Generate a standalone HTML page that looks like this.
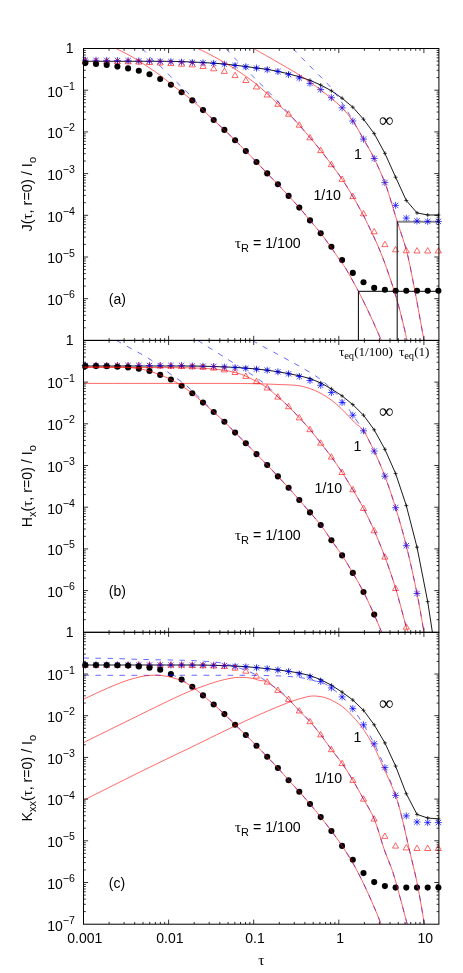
<!DOCTYPE html>
<html><head><meta charset="utf-8"><title>figure</title>
<style>
html,body{margin:0;padding:0;background:#fff;}
svg{display:block;will-change:transform;}
text{font-family:"Liberation Sans",sans-serif;fill:#000;}
.ser{font-family:"Liberation Serif",serif;}
</style></head><body>
<svg width="463" height="973" viewBox="0 0 463 973">
<defs>
<clipPath id="cpa"><rect x="83.5" y="48.5" width="355.4" height="291.9"/></clipPath>
<clipPath id="cpb"><rect x="83.5" y="340.4" width="355.4" height="291.9"/></clipPath>
<clipPath id="cpc"><rect x="83.5" y="632.3" width="355.4" height="291.9"/></clipPath>
</defs>
<rect width="463" height="973" fill="#fff"/>
<path d="M397.2 221.8 H438.9" stroke="#8a8a8a" stroke-width="2.1"/>
<path d="M85.3 61.3 L96.0 61.3 L106.7 61.3 L117.4 61.3 L128.1 61.3 L138.8 61.3 L149.5 61.3 L160.2 61.3 L170.9 61.3 L181.6 61.6 L192.3 62.0 L203.0 62.5 L213.7 63.2 L224.4 64.0 L235.1 65.2 L245.8 66.5 L256.5 68.0 L267.2 69.3 L277.9 71.4 L288.6 73.8 L299.3 76.8 L310.0 80.3 L320.7 85.0 L331.4 90.8 L342.1 98.2 L352.8 107.2 L363.5 119.2 L374.2 133.6 L384.9 153.3 L395.6 177.2 L406.3 200.5 L417.0 212.9 L427.7 215.0 L438.4 215.0" stroke="#000" stroke-width="0.9" fill="none"/>
<path d="M83.3 61.3 h4 M85.3 59.3 v4" stroke="#000" stroke-width="0.7"/>
<path d="M94.0 61.3 h4 M96.0 59.3 v4" stroke="#000" stroke-width="0.7"/>
<path d="M104.7 61.3 h4 M106.7 59.3 v4" stroke="#000" stroke-width="0.7"/>
<path d="M115.4 61.3 h4 M117.4 59.3 v4" stroke="#000" stroke-width="0.7"/>
<path d="M126.1 61.3 h4 M128.1 59.3 v4" stroke="#000" stroke-width="0.7"/>
<path d="M136.8 61.3 h4 M138.8 59.3 v4" stroke="#000" stroke-width="0.7"/>
<path d="M147.5 61.3 h4 M149.5 59.3 v4" stroke="#000" stroke-width="0.7"/>
<path d="M158.2 61.3 h4 M160.2 59.3 v4" stroke="#000" stroke-width="0.7"/>
<path d="M168.9 61.3 h4 M170.9 59.3 v4" stroke="#000" stroke-width="0.7"/>
<path d="M179.6 61.6 h4 M181.6 59.6 v4" stroke="#000" stroke-width="0.7"/>
<path d="M190.3 62.0 h4 M192.3 60.0 v4" stroke="#000" stroke-width="0.7"/>
<path d="M201.0 62.5 h4 M203.0 60.5 v4" stroke="#000" stroke-width="0.7"/>
<path d="M211.7 63.2 h4 M213.7 61.2 v4" stroke="#000" stroke-width="0.7"/>
<path d="M222.4 64.0 h4 M224.4 62.0 v4" stroke="#000" stroke-width="0.7"/>
<path d="M233.1 65.2 h4 M235.1 63.2 v4" stroke="#000" stroke-width="0.7"/>
<path d="M243.8 66.5 h4 M245.8 64.5 v4" stroke="#000" stroke-width="0.7"/>
<path d="M254.5 68.0 h4 M256.5 66.0 v4" stroke="#000" stroke-width="0.7"/>
<path d="M265.2 69.3 h4 M267.2 67.3 v4" stroke="#000" stroke-width="0.7"/>
<path d="M275.9 71.4 h4 M277.9 69.4 v4" stroke="#000" stroke-width="0.7"/>
<path d="M286.6 73.8 h4 M288.6 71.8 v4" stroke="#000" stroke-width="0.7"/>
<path d="M297.3 76.8 h4 M299.3 74.8 v4" stroke="#000" stroke-width="0.7"/>
<path d="M308.0 80.3 h4 M310.0 78.3 v4" stroke="#000" stroke-width="0.7"/>
<path d="M318.7 85.0 h4 M320.7 83.0 v4" stroke="#000" stroke-width="0.7"/>
<path d="M329.4 90.8 h4 M331.4 88.8 v4" stroke="#000" stroke-width="0.7"/>
<path d="M340.1 98.2 h4 M342.1 96.2 v4" stroke="#000" stroke-width="0.7"/>
<path d="M350.8 107.2 h4 M352.8 105.2 v4" stroke="#000" stroke-width="0.7"/>
<path d="M361.5 119.2 h4 M363.5 117.2 v4" stroke="#000" stroke-width="0.7"/>
<path d="M372.2 133.6 h4 M374.2 131.6 v4" stroke="#000" stroke-width="0.7"/>
<path d="M382.9 153.3 h4 M384.9 151.3 v4" stroke="#000" stroke-width="0.7"/>
<path d="M393.6 177.2 h4 M395.6 175.2 v4" stroke="#000" stroke-width="0.7"/>
<path d="M404.3 200.5 h4 M406.3 198.5 v4" stroke="#000" stroke-width="0.7"/>
<path d="M415.0 212.9 h4 M417.0 210.9 v4" stroke="#000" stroke-width="0.7"/>
<path d="M425.7 215.0 h4 M427.7 213.0 v4" stroke="#000" stroke-width="0.7"/>
<path d="M436.4 215.0 h4 M438.4 213.0 v4" stroke="#000" stroke-width="0.7"/>
<path d="M81.8 60.2 h7.0 M85.3 56.7 v7.0 M82.6 57.5 l5.4 5.4 M82.6 62.9 l5.4 -5.4" stroke="#0000ff" stroke-width="0.7" fill="none"/>
<path d="M92.5 60.3 h7.0 M96.0 56.8 v7.0 M93.3 57.6 l5.4 5.4 M93.3 63.0 l5.4 -5.4" stroke="#0000ff" stroke-width="0.7" fill="none"/>
<path d="M103.2 60.4 h7.0 M106.7 56.9 v7.0 M104.0 57.7 l5.4 5.4 M104.0 63.1 l5.4 -5.4" stroke="#0000ff" stroke-width="0.7" fill="none"/>
<path d="M113.9 60.5 h7.0 M117.4 57.0 v7.0 M114.7 57.8 l5.4 5.4 M114.7 63.2 l5.4 -5.4" stroke="#0000ff" stroke-width="0.7" fill="none"/>
<path d="M124.6 60.7 h7.0 M128.1 57.2 v7.0 M125.4 58.0 l5.4 5.4 M125.4 63.4 l5.4 -5.4" stroke="#0000ff" stroke-width="0.7" fill="none"/>
<path d="M135.3 60.9 h7.0 M138.8 57.4 v7.0 M136.1 58.2 l5.4 5.4 M136.1 63.6 l5.4 -5.4" stroke="#0000ff" stroke-width="0.7" fill="none"/>
<path d="M146.0 61.1 h7.0 M149.5 57.6 v7.0 M146.8 58.4 l5.4 5.4 M146.8 63.8 l5.4 -5.4" stroke="#0000ff" stroke-width="0.7" fill="none"/>
<path d="M156.7 61.4 h7.0 M160.2 57.9 v7.0 M157.5 58.7 l5.4 5.4 M157.5 64.1 l5.4 -5.4" stroke="#0000ff" stroke-width="0.7" fill="none"/>
<path d="M167.4 61.7 h7.0 M170.9 58.2 v7.0 M168.2 59.0 l5.4 5.4 M168.2 64.4 l5.4 -5.4" stroke="#0000ff" stroke-width="0.7" fill="none"/>
<path d="M178.1 62.1 h7.0 M181.6 58.6 v7.0 M178.9 59.4 l5.4 5.4 M178.9 64.8 l5.4 -5.4" stroke="#0000ff" stroke-width="0.7" fill="none"/>
<path d="M188.8 62.5 h7.0 M192.3 59.0 v7.0 M189.6 59.8 l5.4 5.4 M189.6 65.2 l5.4 -5.4" stroke="#0000ff" stroke-width="0.7" fill="none"/>
<path d="M199.5 62.9 h7.0 M203.0 59.4 v7.0 M200.3 60.2 l5.4 5.4 M200.3 65.6 l5.4 -5.4" stroke="#0000ff" stroke-width="0.7" fill="none"/>
<path d="M210.2 63.4 h7.0 M213.7 59.9 v7.0 M211.0 60.7 l5.4 5.4 M211.0 66.1 l5.4 -5.4" stroke="#0000ff" stroke-width="0.7" fill="none"/>
<path d="M220.9 64.2 h7.0 M224.4 60.7 v7.0 M221.7 61.5 l5.4 5.4 M221.7 66.9 l5.4 -5.4" stroke="#0000ff" stroke-width="0.7" fill="none"/>
<path d="M231.6 65.5 h7.0 M235.1 62.0 v7.0 M232.4 62.8 l5.4 5.4 M232.4 68.2 l5.4 -5.4" stroke="#0000ff" stroke-width="0.7" fill="none"/>
<path d="M242.3 66.8 h7.0 M245.8 63.3 v7.0 M243.1 64.1 l5.4 5.4 M243.1 69.5 l5.4 -5.4" stroke="#0000ff" stroke-width="0.7" fill="none"/>
<path d="M253.0 68.1 h7.0 M256.5 64.6 v7.0 M253.8 65.4 l5.4 5.4 M253.8 70.8 l5.4 -5.4" stroke="#0000ff" stroke-width="0.7" fill="none"/>
<path d="M263.7 69.7 h7.0 M267.2 66.2 v7.0 M264.5 67.0 l5.4 5.4 M264.5 72.4 l5.4 -5.4" stroke="#0000ff" stroke-width="0.7" fill="none"/>
<path d="M274.4 71.5 h7.0 M277.9 68.0 v7.0 M275.2 68.8 l5.4 5.4 M275.2 74.2 l5.4 -5.4" stroke="#0000ff" stroke-width="0.7" fill="none"/>
<path d="M285.1 74.6 h7.0 M288.6 71.1 v7.0 M285.9 71.9 l5.4 5.4 M285.9 77.3 l5.4 -5.4" stroke="#0000ff" stroke-width="0.7" fill="none"/>
<path d="M295.8 78.0 h7.0 M299.3 74.5 v7.0 M296.6 75.3 l5.4 5.4 M296.6 80.7 l5.4 -5.4" stroke="#0000ff" stroke-width="0.7" fill="none"/>
<path d="M306.5 83.4 h7.0 M310.0 79.9 v7.0 M307.3 80.7 l5.4 5.4 M307.3 86.1 l5.4 -5.4" stroke="#0000ff" stroke-width="0.7" fill="none"/>
<path d="M317.2 89.6 h7.0 M320.7 86.1 v7.0 M318.0 86.9 l5.4 5.4 M318.0 92.3 l5.4 -5.4" stroke="#0000ff" stroke-width="0.7" fill="none"/>
<path d="M327.9 97.7 h7.0 M331.4 94.2 v7.0 M328.7 95.0 l5.4 5.4 M328.7 100.4 l5.4 -5.4" stroke="#0000ff" stroke-width="0.7" fill="none"/>
<path d="M338.6 107.8 h7.0 M342.1 104.3 v7.0 M339.4 105.1 l5.4 5.4 M339.4 110.5 l5.4 -5.4" stroke="#0000ff" stroke-width="0.7" fill="none"/>
<path d="M349.3 121.0 h7.0 M352.8 117.5 v7.0 M350.1 118.3 l5.4 5.4 M350.1 123.7 l5.4 -5.4" stroke="#0000ff" stroke-width="0.7" fill="none"/>
<path d="M360.0 139.1 h7.0 M363.5 135.6 v7.0 M360.8 136.4 l5.4 5.4 M360.8 141.8 l5.4 -5.4" stroke="#0000ff" stroke-width="0.7" fill="none"/>
<path d="M370.7 158.5 h7.0 M374.2 155.0 v7.0 M371.5 155.8 l5.4 5.4 M371.5 161.2 l5.4 -5.4" stroke="#0000ff" stroke-width="0.7" fill="none"/>
<path d="M381.4 182.6 h7.0 M384.9 179.1 v7.0 M382.2 179.9 l5.4 5.4 M382.2 185.3 l5.4 -5.4" stroke="#0000ff" stroke-width="0.7" fill="none"/>
<path d="M392.1 205.4 h7.0 M395.6 201.9 v7.0 M392.9 202.7 l5.4 5.4 M392.9 208.1 l5.4 -5.4" stroke="#0000ff" stroke-width="0.7" fill="none"/>
<path d="M402.8 218.1 h7.0 M406.3 214.6 v7.0 M403.6 215.4 l5.4 5.4 M403.6 220.8 l5.4 -5.4" stroke="#0000ff" stroke-width="0.7" fill="none"/>
<path d="M413.5 221.0 h7.0 M417.0 217.5 v7.0 M414.3 218.3 l5.4 5.4 M414.3 223.7 l5.4 -5.4" stroke="#0000ff" stroke-width="0.7" fill="none"/>
<path d="M424.2 221.4 h7.0 M427.7 217.9 v7.0 M425.0 218.7 l5.4 5.4 M425.0 224.1 l5.4 -5.4" stroke="#0000ff" stroke-width="0.7" fill="none"/>
<path d="M434.9 221.4 h7.0 M438.4 217.9 v7.0 M435.7 218.7 l5.4 5.4 M435.7 224.1 l5.4 -5.4" stroke="#0000ff" stroke-width="0.7" fill="none"/>
<path d="M85.3 57.8 L88.3 63.2 L82.2 63.2 Z" fill="none" stroke="#ff0000" stroke-width="0.6"/>
<path d="M96.0 57.9 L99.0 63.3 L93.0 63.3 Z" fill="none" stroke="#ff0000" stroke-width="0.6"/>
<path d="M106.7 58.0 L109.7 63.4 L103.6 63.4 Z" fill="none" stroke="#ff0000" stroke-width="0.6"/>
<path d="M117.4 58.2 L120.4 63.6 L114.3 63.6 Z" fill="none" stroke="#ff0000" stroke-width="0.6"/>
<path d="M128.1 58.4 L131.2 63.8 L125.0 63.8 Z" fill="none" stroke="#ff0000" stroke-width="0.6"/>
<path d="M138.8 58.7 L141.9 64.1 L135.8 64.1 Z" fill="none" stroke="#ff0000" stroke-width="0.6"/>
<path d="M149.5 59.1 L152.6 64.5 L146.4 64.5 Z" fill="none" stroke="#ff0000" stroke-width="0.6"/>
<path d="M160.2 59.6 L163.2 65.0 L157.1 65.0 Z" fill="none" stroke="#ff0000" stroke-width="0.6"/>
<path d="M170.9 60.2 L173.9 65.6 L167.8 65.6 Z" fill="none" stroke="#ff0000" stroke-width="0.6"/>
<path d="M181.6 60.8 L184.7 66.2 L178.5 66.2 Z" fill="none" stroke="#ff0000" stroke-width="0.6"/>
<path d="M192.3 61.5 L195.4 66.9 L189.2 66.9 Z" fill="none" stroke="#ff0000" stroke-width="0.6"/>
<path d="M203.0 63.1 L206.1 68.5 L199.9 68.5 Z" fill="none" stroke="#ff0000" stroke-width="0.6"/>
<path d="M213.7 65.4 L216.8 70.8 L210.6 70.8 Z" fill="none" stroke="#ff0000" stroke-width="0.6"/>
<path d="M224.4 68.0 L227.4 73.4 L221.3 73.4 Z" fill="none" stroke="#ff0000" stroke-width="0.6"/>
<path d="M235.1 72.2 L238.1 77.6 L232.0 77.6 Z" fill="none" stroke="#ff0000" stroke-width="0.6"/>
<path d="M245.8 77.1 L248.9 82.5 L242.8 82.5 Z" fill="none" stroke="#ff0000" stroke-width="0.6"/>
<path d="M256.5 83.6 L259.6 89.0 L253.4 89.0 Z" fill="none" stroke="#ff0000" stroke-width="0.6"/>
<path d="M267.2 91.6 L270.2 97.0 L264.1 97.0 Z" fill="none" stroke="#ff0000" stroke-width="0.6"/>
<path d="M277.9 100.9 L280.9 106.3 L274.8 106.3 Z" fill="none" stroke="#ff0000" stroke-width="0.6"/>
<path d="M288.6 110.8 L291.6 116.2 L285.5 116.2 Z" fill="none" stroke="#ff0000" stroke-width="0.6"/>
<path d="M299.3 121.8 L302.4 127.2 L296.2 127.2 Z" fill="none" stroke="#ff0000" stroke-width="0.6"/>
<path d="M310.0 134.4 L313.1 139.8 L306.9 139.8 Z" fill="none" stroke="#ff0000" stroke-width="0.6"/>
<path d="M320.7 147.2 L323.8 152.6 L317.6 152.6 Z" fill="none" stroke="#ff0000" stroke-width="0.6"/>
<path d="M331.4 161.3 L334.4 166.7 L328.3 166.7 Z" fill="none" stroke="#ff0000" stroke-width="0.6"/>
<path d="M342.1 176.0 L345.1 181.4 L339.0 181.4 Z" fill="none" stroke="#ff0000" stroke-width="0.6"/>
<path d="M352.8 193.2 L355.9 198.6 L349.8 198.6 Z" fill="none" stroke="#ff0000" stroke-width="0.6"/>
<path d="M363.5 210.4 L366.6 215.8 L360.4 215.8 Z" fill="none" stroke="#ff0000" stroke-width="0.6"/>
<path d="M374.2 228.4 L377.2 233.8 L371.1 233.8 Z" fill="none" stroke="#ff0000" stroke-width="0.6"/>
<path d="M384.9 241.2 L387.9 246.6 L381.8 246.6 Z" fill="none" stroke="#ff0000" stroke-width="0.6"/>
<path d="M395.6 246.4 L398.6 251.8 L392.5 251.8 Z" fill="none" stroke="#ff0000" stroke-width="0.6"/>
<path d="M406.3 247.4 L409.4 252.8 L403.2 252.8 Z" fill="none" stroke="#ff0000" stroke-width="0.6"/>
<path d="M417.0 247.6 L420.1 253.0 L413.9 253.0 Z" fill="none" stroke="#ff0000" stroke-width="0.6"/>
<path d="M427.7 247.6 L430.8 253.0 L424.6 253.0 Z" fill="none" stroke="#ff0000" stroke-width="0.6"/>
<path d="M438.4 247.6 L441.4 253.0 L435.3 253.0 Z" fill="none" stroke="#ff0000" stroke-width="0.6"/>
<circle cx="85.3" cy="63.1" r="3.05" fill="#000"/>
<circle cx="96.0" cy="64.0" r="3.05" fill="#000"/>
<circle cx="106.7" cy="65.0" r="3.05" fill="#000"/>
<circle cx="117.4" cy="66.6" r="3.05" fill="#000"/>
<circle cx="128.1" cy="68.4" r="3.05" fill="#000"/>
<circle cx="138.8" cy="70.7" r="3.05" fill="#000"/>
<circle cx="149.5" cy="74.3" r="3.05" fill="#000"/>
<circle cx="160.2" cy="79.0" r="3.05" fill="#000"/>
<circle cx="170.9" cy="84.7" r="3.05" fill="#000"/>
<circle cx="181.6" cy="92.2" r="3.05" fill="#000"/>
<circle cx="192.3" cy="100.4" r="3.05" fill="#000"/>
<circle cx="203.0" cy="110.1" r="3.05" fill="#000"/>
<circle cx="213.7" cy="120.0" r="3.05" fill="#000"/>
<circle cx="224.4" cy="129.9" r="3.05" fill="#000"/>
<circle cx="235.1" cy="140.2" r="3.05" fill="#000"/>
<circle cx="245.8" cy="151.1" r="3.05" fill="#000"/>
<circle cx="256.5" cy="162.0" r="3.05" fill="#000"/>
<circle cx="267.2" cy="173.4" r="3.05" fill="#000"/>
<circle cx="277.9" cy="184.3" r="3.05" fill="#000"/>
<circle cx="288.6" cy="195.9" r="3.05" fill="#000"/>
<circle cx="299.3" cy="207.6" r="3.05" fill="#000"/>
<circle cx="310.0" cy="220.4" r="3.05" fill="#000"/>
<circle cx="320.7" cy="233.2" r="3.05" fill="#000"/>
<circle cx="331.4" cy="246.7" r="3.05" fill="#000"/>
<circle cx="342.1" cy="260.1" r="3.05" fill="#000"/>
<circle cx="352.8" cy="272.9" r="3.05" fill="#000"/>
<circle cx="363.5" cy="282.3" r="3.05" fill="#000"/>
<circle cx="374.2" cy="287.9" r="3.05" fill="#000"/>
<circle cx="384.9" cy="289.8" r="3.05" fill="#000"/>
<circle cx="395.6" cy="290.7" r="3.05" fill="#000"/>
<circle cx="406.3" cy="290.7" r="3.05" fill="#000"/>
<circle cx="417.0" cy="290.7" r="3.05" fill="#000"/>
<circle cx="427.7" cy="290.7" r="3.05" fill="#000"/>
<circle cx="438.4" cy="290.7" r="3.05" fill="#000"/>
<g clip-path="url(#cpa)">
<path d="M142.2 48.5 C144.1 50.5 150.3 57.4 153.6 60.6 C156.9 63.9 159.1 65.1 162.2 68.0 C165.3 70.9 169.1 75.0 172.4 78.2 C175.7 81.4 178.9 84.3 182.1 87.4 C185.3 90.5 188.3 93.2 191.8 97.0 C195.3 100.8 199.3 106.3 203.0 110.1 C206.7 113.9 210.1 116.7 213.7 120.0 C217.3 123.3 220.8 126.5 224.4 129.9 C228.0 133.3 231.5 136.7 235.1 140.2 C238.7 143.7 242.2 147.5 245.8 151.1 C249.4 154.7 252.9 158.3 256.5 162.0 C260.1 165.7 263.6 169.7 267.2 173.4 C270.8 177.1 274.3 180.6 277.9 184.3 C281.5 188.1 285.0 192.0 288.6 195.9 C292.2 199.8 295.7 203.5 299.3 207.6 C302.9 211.7 306.4 216.1 310.0 220.4 C313.6 224.7 317.1 228.6 320.7 233.2 C324.3 237.8 329.0 244.5 331.4 247.8 C333.8 251.1 333.2 250.6 335.0 253.2 C336.8 255.8 340.3 260.6 342.1 263.2 C343.9 265.8 344.2 265.9 345.8 268.6 C347.4 271.3 349.9 275.7 352.0 279.5 C354.1 283.3 355.8 286.3 358.4 291.3 C361.0 296.3 364.6 303.6 367.4 309.4 C370.2 315.2 372.7 320.8 375.0 326.0 C377.3 331.2 380.3 338.0 381.4 340.4" stroke="#0000ff" stroke-width="0.6" fill="none" stroke-dasharray="5.5 6.5"/>
<path d="M226.0 48.5 C227.8 50.5 233.8 57.2 237.1 60.6 C240.3 64.0 242.6 66.1 245.5 69.0 C248.4 71.9 251.5 75.0 254.4 77.9 C257.3 80.8 260.1 83.5 263.1 86.5 C266.1 89.5 269.1 92.3 272.4 95.8 C275.7 99.2 279.4 103.3 283.0 107.2 C286.6 111.1 289.5 114.1 294.0 119.2 C298.5 124.3 305.6 132.4 310.0 137.6 C314.4 142.8 317.1 145.9 320.7 150.4 C324.3 154.9 327.8 159.7 331.4 164.5 C335.0 169.3 338.5 173.9 342.1 179.2 C345.7 184.5 349.4 190.6 352.8 196.4 C356.2 202.2 360.2 209.3 362.7 214.0 C365.2 218.7 366.3 221.2 367.9 224.5 C369.5 227.8 370.8 230.4 372.5 234.0 C374.2 237.6 376.2 241.7 378.1 246.3 C380.1 250.9 382.2 256.2 384.2 261.5 C386.2 266.8 388.2 272.7 390.0 278.0 C391.8 283.3 393.4 288.3 395.0 293.5 C396.6 298.7 398.1 303.8 399.5 309.0 C400.9 314.2 402.2 319.8 403.5 325.0 C404.8 330.2 406.4 337.8 407.0 340.4" stroke="#0000ff" stroke-width="0.6" fill="none" stroke-dasharray="5.5 6.5"/>
<path d="M293.2 48.5 C293.6 49.0 293.9 49.6 295.8 51.6 C297.7 53.6 301.6 57.7 304.5 60.6 C307.4 63.5 310.1 66.3 313.1 69.3 C316.1 72.3 319.6 75.7 322.4 78.6 C325.2 81.5 327.4 83.5 330.0 86.5 C332.6 89.5 335.1 92.9 337.9 96.9 C340.7 100.9 343.8 105.3 347.0 110.5 C350.2 115.7 354.2 123.0 357.0 127.8 C359.8 132.6 360.6 134.0 363.5 139.1 C366.4 144.2 370.6 151.2 374.2 158.5 C377.8 165.8 382.3 176.0 384.9 182.6 C387.5 189.2 387.9 191.5 390.0 198.0 C392.1 204.5 394.4 212.5 397.2 221.5 C400.0 230.5 403.9 240.5 406.8 251.8 C409.7 263.1 411.7 274.6 414.6 289.4 C417.5 304.2 422.4 331.9 424.0 340.4" stroke="#0000ff" stroke-width="0.6" fill="none" stroke-dasharray="5.5 6.5"/>
<path d="M116.0 48.5 C118.0 49.5 124.2 52.5 128.0 54.6 C131.8 56.7 135.3 58.7 139.0 61.0 C142.7 63.3 146.4 65.8 150.0 68.2 C153.6 70.6 156.9 72.9 160.4 75.5 C163.9 78.1 167.5 81.2 171.0 84.0 C174.5 86.8 178.0 89.5 181.6 92.2 C185.2 94.9 188.7 97.4 192.3 100.4 C195.9 103.4 199.4 106.8 203.0 110.1 C206.6 113.4 210.1 116.7 213.7 120.0 C217.3 123.3 220.8 126.5 224.4 129.9 C228.0 133.3 231.5 136.7 235.1 140.2 C238.7 143.7 242.2 147.5 245.8 151.1 C249.4 154.7 252.9 158.3 256.5 162.0 C260.1 165.7 263.6 169.7 267.2 173.4 C270.8 177.1 274.3 180.6 277.9 184.3 C281.5 188.1 285.0 192.0 288.6 195.9 C292.2 199.8 295.7 203.5 299.3 207.6 C302.9 211.7 306.4 216.1 310.0 220.4 C313.6 224.7 317.1 228.6 320.7 233.2 C324.3 237.8 329.0 244.5 331.4 247.8 C333.8 251.1 333.2 250.6 335.0 253.2 C336.8 255.8 340.3 260.6 342.1 263.2 C343.9 265.8 344.2 265.9 345.8 268.6 C347.4 271.3 349.9 275.7 352.0 279.5 C354.1 283.3 355.8 286.3 358.4 291.3 C361.0 296.3 364.6 303.6 367.4 309.4 C370.2 315.2 372.7 320.8 375.0 326.0 C377.3 331.2 380.3 338.0 381.4 340.4" stroke="#ff0000" stroke-width="0.6" fill="none"/>
<path d="M197.8 48.5 C199.8 49.5 205.7 52.2 210.0 54.5 C214.3 56.8 218.7 59.1 223.7 62.1 C228.7 65.1 234.8 68.8 240.0 72.3 C245.2 75.8 250.3 79.4 254.8 82.9 C259.3 86.4 263.1 90.0 267.0 93.5 C270.9 97.0 274.3 100.7 277.9 104.1 C281.5 107.5 285.0 110.5 288.6 114.0 C292.2 117.5 295.7 121.1 299.3 125.0 C302.9 128.9 306.4 133.4 310.0 137.6 C313.6 141.8 317.1 145.9 320.7 150.4 C324.3 154.9 327.8 159.7 331.4 164.5 C335.0 169.3 338.5 173.9 342.1 179.2 C345.7 184.5 349.4 190.6 352.8 196.4 C356.2 202.2 360.2 209.3 362.7 214.0 C365.2 218.7 366.3 221.2 367.9 224.5 C369.5 227.8 370.8 230.4 372.5 234.0 C374.2 237.6 376.2 241.7 378.1 246.3 C380.1 250.9 382.2 256.2 384.2 261.5 C386.2 266.8 388.2 272.7 390.0 278.0 C391.8 283.3 393.4 288.3 395.0 293.5 C396.6 298.7 398.1 303.8 399.5 309.0 C400.9 314.2 402.2 319.8 403.5 325.0 C404.8 330.2 406.4 337.8 407.0 340.4" stroke="#ff0000" stroke-width="0.6" fill="none"/>
<path d="M253.5 48.5 C256.2 50.0 264.4 54.6 270.0 57.8 C275.6 61.0 281.5 64.4 287.3 67.8 C293.1 71.2 299.1 74.5 304.6 78.2 C310.1 81.9 316.0 86.5 320.5 89.9 C325.0 93.3 327.9 95.6 331.5 98.6 C335.1 101.6 338.5 104.1 342.1 107.8 C345.6 111.5 349.2 115.8 352.8 121.0 C356.4 126.2 359.9 132.8 363.5 139.1 C367.1 145.3 370.6 151.2 374.2 158.5 C377.8 165.8 382.3 176.0 384.9 182.6 C387.5 189.2 387.9 191.5 390.0 198.0 C392.1 204.5 394.4 212.5 397.2 221.5 C400.0 230.5 403.9 240.5 406.8 251.8 C409.7 263.1 411.7 274.6 414.6 289.4 C417.5 304.2 422.4 331.9 424.0 340.4" stroke="#ff0000" stroke-width="0.6" fill="none"/>
</g>
<path d="M358.4 340.4 V291.3 H438.9 M397.2 340.4 V221.5" stroke="#000" stroke-width="1" fill="none"/>
<path d="M85.3 366.0 L96.0 366.0 L106.7 366.0 L117.4 366.0 L128.1 366.0 L138.8 366.0 L149.5 366.0 L160.2 366.0 L170.9 366.0 L181.6 366.0 L192.3 366.0 L203.0 366.2 L213.7 366.5 L224.4 366.9 L235.1 367.4 L245.8 368.1 L256.5 369.0 L267.2 370.2 L277.9 371.8 L288.6 373.6 L299.3 375.8 L310.0 378.5 L320.7 382.9 L331.4 388.9 L342.1 395.9 L352.8 404.6 L363.5 415.2 L374.2 429.8 L384.9 449.3 L395.6 473.5 L406.3 505.6 L417.0 547.2 L427.7 601.6 L432.4 632.3" stroke="#000" stroke-width="0.9" fill="none"/>
<path d="M83.3 366.0 h4 M85.3 364.0 v4" stroke="#000" stroke-width="0.7"/>
<path d="M94.0 366.0 h4 M96.0 364.0 v4" stroke="#000" stroke-width="0.7"/>
<path d="M104.7 366.0 h4 M106.7 364.0 v4" stroke="#000" stroke-width="0.7"/>
<path d="M115.4 366.0 h4 M117.4 364.0 v4" stroke="#000" stroke-width="0.7"/>
<path d="M126.1 366.0 h4 M128.1 364.0 v4" stroke="#000" stroke-width="0.7"/>
<path d="M136.8 366.0 h4 M138.8 364.0 v4" stroke="#000" stroke-width="0.7"/>
<path d="M147.5 366.0 h4 M149.5 364.0 v4" stroke="#000" stroke-width="0.7"/>
<path d="M158.2 366.0 h4 M160.2 364.0 v4" stroke="#000" stroke-width="0.7"/>
<path d="M168.9 366.0 h4 M170.9 364.0 v4" stroke="#000" stroke-width="0.7"/>
<path d="M179.6 366.0 h4 M181.6 364.0 v4" stroke="#000" stroke-width="0.7"/>
<path d="M190.3 366.0 h4 M192.3 364.0 v4" stroke="#000" stroke-width="0.7"/>
<path d="M201.0 366.2 h4 M203.0 364.2 v4" stroke="#000" stroke-width="0.7"/>
<path d="M211.7 366.5 h4 M213.7 364.5 v4" stroke="#000" stroke-width="0.7"/>
<path d="M222.4 366.9 h4 M224.4 364.9 v4" stroke="#000" stroke-width="0.7"/>
<path d="M233.1 367.4 h4 M235.1 365.4 v4" stroke="#000" stroke-width="0.7"/>
<path d="M243.8 368.1 h4 M245.8 366.1 v4" stroke="#000" stroke-width="0.7"/>
<path d="M254.5 369.0 h4 M256.5 367.0 v4" stroke="#000" stroke-width="0.7"/>
<path d="M265.2 370.2 h4 M267.2 368.2 v4" stroke="#000" stroke-width="0.7"/>
<path d="M275.9 371.8 h4 M277.9 369.8 v4" stroke="#000" stroke-width="0.7"/>
<path d="M286.6 373.6 h4 M288.6 371.6 v4" stroke="#000" stroke-width="0.7"/>
<path d="M297.3 375.8 h4 M299.3 373.8 v4" stroke="#000" stroke-width="0.7"/>
<path d="M308.0 378.5 h4 M310.0 376.5 v4" stroke="#000" stroke-width="0.7"/>
<path d="M318.7 382.9 h4 M320.7 380.9 v4" stroke="#000" stroke-width="0.7"/>
<path d="M329.4 388.9 h4 M331.4 386.9 v4" stroke="#000" stroke-width="0.7"/>
<path d="M340.1 395.9 h4 M342.1 393.9 v4" stroke="#000" stroke-width="0.7"/>
<path d="M350.8 404.6 h4 M352.8 402.6 v4" stroke="#000" stroke-width="0.7"/>
<path d="M361.5 415.2 h4 M363.5 413.2 v4" stroke="#000" stroke-width="0.7"/>
<path d="M372.2 429.8 h4 M374.2 427.8 v4" stroke="#000" stroke-width="0.7"/>
<path d="M382.9 449.3 h4 M384.9 447.3 v4" stroke="#000" stroke-width="0.7"/>
<path d="M393.6 473.5 h4 M395.6 471.5 v4" stroke="#000" stroke-width="0.7"/>
<path d="M404.3 505.6 h4 M406.3 503.6 v4" stroke="#000" stroke-width="0.7"/>
<path d="M415.0 547.2 h4 M417.0 545.2 v4" stroke="#000" stroke-width="0.7"/>
<path d="M425.7 601.6 h4 M427.7 599.6 v4" stroke="#000" stroke-width="0.7"/>
<path d="M81.8 365.5 h7.0 M85.3 362.0 v7.0 M82.6 362.8 l5.4 5.4 M82.6 368.2 l5.4 -5.4" stroke="#0000ff" stroke-width="0.7" fill="none"/>
<path d="M92.5 365.5 h7.0 M96.0 362.0 v7.0 M93.3 362.8 l5.4 5.4 M93.3 368.2 l5.4 -5.4" stroke="#0000ff" stroke-width="0.7" fill="none"/>
<path d="M103.2 365.5 h7.0 M106.7 362.0 v7.0 M104.0 362.8 l5.4 5.4 M104.0 368.2 l5.4 -5.4" stroke="#0000ff" stroke-width="0.7" fill="none"/>
<path d="M113.9 365.5 h7.0 M117.4 362.0 v7.0 M114.7 362.8 l5.4 5.4 M114.7 368.2 l5.4 -5.4" stroke="#0000ff" stroke-width="0.7" fill="none"/>
<path d="M124.6 365.5 h7.0 M128.1 362.0 v7.0 M125.4 362.8 l5.4 5.4 M125.4 368.2 l5.4 -5.4" stroke="#0000ff" stroke-width="0.7" fill="none"/>
<path d="M135.3 365.5 h7.0 M138.8 362.0 v7.0 M136.1 362.8 l5.4 5.4 M136.1 368.2 l5.4 -5.4" stroke="#0000ff" stroke-width="0.7" fill="none"/>
<path d="M146.0 365.5 h7.0 M149.5 362.0 v7.0 M146.8 362.8 l5.4 5.4 M146.8 368.2 l5.4 -5.4" stroke="#0000ff" stroke-width="0.7" fill="none"/>
<path d="M156.7 365.5 h7.0 M160.2 362.0 v7.0 M157.5 362.8 l5.4 5.4 M157.5 368.2 l5.4 -5.4" stroke="#0000ff" stroke-width="0.7" fill="none"/>
<path d="M167.4 365.5 h7.0 M170.9 362.0 v7.0 M168.2 362.8 l5.4 5.4 M168.2 368.2 l5.4 -5.4" stroke="#0000ff" stroke-width="0.7" fill="none"/>
<path d="M178.1 365.5 h7.0 M181.6 362.0 v7.0 M178.9 362.8 l5.4 5.4 M178.9 368.2 l5.4 -5.4" stroke="#0000ff" stroke-width="0.7" fill="none"/>
<path d="M188.8 366.0 h7.0 M192.3 362.5 v7.0 M189.6 363.3 l5.4 5.4 M189.6 368.7 l5.4 -5.4" stroke="#0000ff" stroke-width="0.7" fill="none"/>
<path d="M199.5 366.2 h7.0 M203.0 362.7 v7.0 M200.3 363.5 l5.4 5.4 M200.3 368.9 l5.4 -5.4" stroke="#0000ff" stroke-width="0.7" fill="none"/>
<path d="M210.2 366.5 h7.0 M213.7 363.0 v7.0 M211.0 363.8 l5.4 5.4 M211.0 369.2 l5.4 -5.4" stroke="#0000ff" stroke-width="0.7" fill="none"/>
<path d="M220.9 367.0 h7.0 M224.4 363.5 v7.0 M221.7 364.3 l5.4 5.4 M221.7 369.7 l5.4 -5.4" stroke="#0000ff" stroke-width="0.7" fill="none"/>
<path d="M231.6 367.7 h7.0 M235.1 364.2 v7.0 M232.4 365.0 l5.4 5.4 M232.4 370.4 l5.4 -5.4" stroke="#0000ff" stroke-width="0.7" fill="none"/>
<path d="M242.3 368.4 h7.0 M245.8 364.9 v7.0 M243.1 365.7 l5.4 5.4 M243.1 371.1 l5.4 -5.4" stroke="#0000ff" stroke-width="0.7" fill="none"/>
<path d="M253.0 369.2 h7.0 M256.5 365.7 v7.0 M253.8 366.5 l5.4 5.4 M253.8 371.9 l5.4 -5.4" stroke="#0000ff" stroke-width="0.7" fill="none"/>
<path d="M263.7 370.2 h7.0 M267.2 366.7 v7.0 M264.5 367.5 l5.4 5.4 M264.5 372.9 l5.4 -5.4" stroke="#0000ff" stroke-width="0.7" fill="none"/>
<path d="M274.4 371.8 h7.0 M277.9 368.3 v7.0 M275.2 369.1 l5.4 5.4 M275.2 374.5 l5.4 -5.4" stroke="#0000ff" stroke-width="0.7" fill="none"/>
<path d="M285.1 373.8 h7.0 M288.6 370.3 v7.0 M285.9 371.1 l5.4 5.4 M285.9 376.5 l5.4 -5.4" stroke="#0000ff" stroke-width="0.7" fill="none"/>
<path d="M295.8 376.5 h7.0 M299.3 373.0 v7.0 M296.6 373.8 l5.4 5.4 M296.6 379.2 l5.4 -5.4" stroke="#0000ff" stroke-width="0.7" fill="none"/>
<path d="M306.5 380.5 h7.0 M310.0 377.0 v7.0 M307.3 377.8 l5.4 5.4 M307.3 383.2 l5.4 -5.4" stroke="#0000ff" stroke-width="0.7" fill="none"/>
<path d="M317.2 385.3 h7.0 M320.7 381.8 v7.0 M318.0 382.6 l5.4 5.4 M318.0 388.0 l5.4 -5.4" stroke="#0000ff" stroke-width="0.7" fill="none"/>
<path d="M327.9 392.5 h7.0 M331.4 389.0 v7.0 M328.7 389.8 l5.4 5.4 M328.7 395.2 l5.4 -5.4" stroke="#0000ff" stroke-width="0.7" fill="none"/>
<path d="M338.6 402.5 h7.0 M342.1 399.0 v7.0 M339.4 399.8 l5.4 5.4 M339.4 405.2 l5.4 -5.4" stroke="#0000ff" stroke-width="0.7" fill="none"/>
<path d="M349.3 415.2 h7.0 M352.8 411.7 v7.0 M350.1 412.5 l5.4 5.4 M350.1 417.9 l5.4 -5.4" stroke="#0000ff" stroke-width="0.7" fill="none"/>
<path d="M360.0 430.8 h7.0 M363.5 427.3 v7.0 M360.8 428.1 l5.4 5.4 M360.8 433.5 l5.4 -5.4" stroke="#0000ff" stroke-width="0.7" fill="none"/>
<path d="M370.7 451.1 h7.0 M374.2 447.6 v7.0 M371.5 448.4 l5.4 5.4 M371.5 453.8 l5.4 -5.4" stroke="#0000ff" stroke-width="0.7" fill="none"/>
<path d="M381.4 476.2 h7.0 M384.9 472.7 v7.0 M382.2 473.5 l5.4 5.4 M382.2 478.9 l5.4 -5.4" stroke="#0000ff" stroke-width="0.7" fill="none"/>
<path d="M392.1 507.7 h7.0 M395.6 504.2 v7.0 M392.9 505.0 l5.4 5.4 M392.9 510.4 l5.4 -5.4" stroke="#0000ff" stroke-width="0.7" fill="none"/>
<path d="M402.8 545.7 h7.0 M406.3 542.2 v7.0 M403.6 543.0 l5.4 5.4 M403.6 548.4 l5.4 -5.4" stroke="#0000ff" stroke-width="0.7" fill="none"/>
<path d="M413.5 593.5 h7.0 M417.0 590.0 v7.0 M414.3 590.8 l5.4 5.4 M414.3 596.2 l5.4 -5.4" stroke="#0000ff" stroke-width="0.7" fill="none"/>
<path d="M85.3 362.4 L88.3 367.8 L82.2 367.8 Z" fill="none" stroke="#ff0000" stroke-width="0.6"/>
<path d="M96.0 362.4 L99.0 367.8 L93.0 367.8 Z" fill="none" stroke="#ff0000" stroke-width="0.6"/>
<path d="M106.7 362.4 L109.7 367.8 L103.6 367.8 Z" fill="none" stroke="#ff0000" stroke-width="0.6"/>
<path d="M117.4 362.4 L120.4 367.8 L114.3 367.8 Z" fill="none" stroke="#ff0000" stroke-width="0.6"/>
<path d="M128.1 362.5 L131.2 367.9 L125.0 367.9 Z" fill="none" stroke="#ff0000" stroke-width="0.6"/>
<path d="M138.8 362.5 L141.9 367.9 L135.8 367.9 Z" fill="none" stroke="#ff0000" stroke-width="0.6"/>
<path d="M149.5 362.6 L152.6 368.0 L146.4 368.0 Z" fill="none" stroke="#ff0000" stroke-width="0.6"/>
<path d="M160.2 362.7 L163.2 368.1 L157.1 368.1 Z" fill="none" stroke="#ff0000" stroke-width="0.6"/>
<path d="M170.9 362.9 L173.9 368.3 L167.8 368.3 Z" fill="none" stroke="#ff0000" stroke-width="0.6"/>
<path d="M181.6 363.1 L184.7 368.5 L178.5 368.5 Z" fill="none" stroke="#ff0000" stroke-width="0.6"/>
<path d="M192.3 363.4 L195.4 368.8 L189.2 368.8 Z" fill="none" stroke="#ff0000" stroke-width="0.6"/>
<path d="M203.0 363.9 L206.1 369.3 L199.9 369.3 Z" fill="none" stroke="#ff0000" stroke-width="0.6"/>
<path d="M213.7 364.7 L216.8 370.1 L210.6 370.1 Z" fill="none" stroke="#ff0000" stroke-width="0.6"/>
<path d="M224.4 366.5 L227.4 371.9 L221.3 371.9 Z" fill="none" stroke="#ff0000" stroke-width="0.6"/>
<path d="M235.1 369.1 L238.1 374.5 L232.0 374.5 Z" fill="none" stroke="#ff0000" stroke-width="0.6"/>
<path d="M245.8 373.0 L248.9 378.4 L242.8 378.4 Z" fill="none" stroke="#ff0000" stroke-width="0.6"/>
<path d="M256.5 378.2 L259.6 383.6 L253.4 383.6 Z" fill="none" stroke="#ff0000" stroke-width="0.6"/>
<path d="M267.2 384.6 L270.2 390.0 L264.1 390.0 Z" fill="none" stroke="#ff0000" stroke-width="0.6"/>
<path d="M277.9 393.7 L280.9 399.1 L274.8 399.1 Z" fill="none" stroke="#ff0000" stroke-width="0.6"/>
<path d="M288.6 403.3 L291.6 408.7 L285.5 408.7 Z" fill="none" stroke="#ff0000" stroke-width="0.6"/>
<path d="M299.3 414.5 L302.4 419.9 L296.2 419.9 Z" fill="none" stroke="#ff0000" stroke-width="0.6"/>
<path d="M310.0 426.3 L313.1 431.7 L306.9 431.7 Z" fill="none" stroke="#ff0000" stroke-width="0.6"/>
<path d="M320.7 439.8 L323.8 445.2 L317.6 445.2 Z" fill="none" stroke="#ff0000" stroke-width="0.6"/>
<path d="M331.4 453.7 L334.4 459.1 L328.3 459.1 Z" fill="none" stroke="#ff0000" stroke-width="0.6"/>
<path d="M342.1 469.1 L345.1 474.5 L339.0 474.5 Z" fill="none" stroke="#ff0000" stroke-width="0.6"/>
<path d="M352.8 486.4 L355.9 491.8 L349.8 491.8 Z" fill="none" stroke="#ff0000" stroke-width="0.6"/>
<path d="M363.5 505.1 L366.6 510.5 L360.4 510.5 Z" fill="none" stroke="#ff0000" stroke-width="0.6"/>
<path d="M374.2 527.4 L377.2 532.8 L371.1 532.8 Z" fill="none" stroke="#ff0000" stroke-width="0.6"/>
<path d="M384.9 553.7 L387.9 559.1 L381.8 559.1 Z" fill="none" stroke="#ff0000" stroke-width="0.6"/>
<path d="M395.6 585.1 L398.6 590.5 L392.5 590.5 Z" fill="none" stroke="#ff0000" stroke-width="0.6"/>
<path d="M406.3 623.8 L409.4 629.2 L403.2 629.2 Z" fill="none" stroke="#ff0000" stroke-width="0.6"/>
<circle cx="85.3" cy="366.1" r="3.05" fill="#000"/>
<circle cx="96.0" cy="366.1" r="3.05" fill="#000"/>
<circle cx="106.7" cy="366.3" r="3.05" fill="#000"/>
<circle cx="117.4" cy="366.8" r="3.05" fill="#000"/>
<circle cx="128.1" cy="367.4" r="3.05" fill="#000"/>
<circle cx="138.8" cy="368.7" r="3.05" fill="#000"/>
<circle cx="149.5" cy="371.0" r="3.05" fill="#000"/>
<circle cx="160.2" cy="374.9" r="3.05" fill="#000"/>
<circle cx="170.9" cy="379.5" r="3.05" fill="#000"/>
<circle cx="181.6" cy="385.8" r="3.05" fill="#000"/>
<circle cx="192.3" cy="393.3" r="3.05" fill="#000"/>
<circle cx="203.0" cy="402.6" r="3.05" fill="#000"/>
<circle cx="213.7" cy="412.0" r="3.05" fill="#000"/>
<circle cx="224.4" cy="421.8" r="3.05" fill="#000"/>
<circle cx="235.1" cy="432.6" r="3.05" fill="#000"/>
<circle cx="245.8" cy="443.2" r="3.05" fill="#000"/>
<circle cx="256.5" cy="454.1" r="3.05" fill="#000"/>
<circle cx="267.2" cy="465.0" r="3.05" fill="#000"/>
<circle cx="277.9" cy="476.4" r="3.05" fill="#000"/>
<circle cx="288.6" cy="487.8" r="3.05" fill="#000"/>
<circle cx="299.3" cy="500.0" r="3.05" fill="#000"/>
<circle cx="310.0" cy="512.4" r="3.05" fill="#000"/>
<circle cx="320.7" cy="525.0" r="3.05" fill="#000"/>
<circle cx="331.4" cy="540.3" r="3.05" fill="#000"/>
<circle cx="342.1" cy="555.4" r="3.05" fill="#000"/>
<circle cx="352.8" cy="572.9" r="3.05" fill="#000"/>
<circle cx="363.5" cy="592.0" r="3.05" fill="#000"/>
<circle cx="374.2" cy="614.6" r="3.05" fill="#000"/>
<g clip-path="url(#cpb)">
<path d="M116.3 340.4 C118.4 341.6 125.1 345.2 129.2 347.5 C133.3 349.8 137.2 351.8 141.0 354.0 C144.8 356.2 148.3 358.2 151.8 360.5 C155.3 362.8 158.5 365.1 162.0 367.6 C165.5 370.2 169.2 373.2 172.8 375.8 C176.4 378.4 180.1 380.4 183.8 383.4 C187.5 386.4 191.3 390.1 195.0 393.6 C198.7 397.1 202.9 401.1 206.0 404.2 C209.1 407.3 210.6 409.1 213.7 412.0 C216.8 414.9 220.8 418.4 224.4 421.8 C228.0 425.2 231.5 429.0 235.1 432.6 C238.7 436.2 242.2 439.6 245.8 443.2 C249.4 446.8 252.9 450.5 256.5 454.1 C260.1 457.7 263.6 461.3 267.2 465.0 C270.8 468.7 274.3 472.6 277.9 476.4 C281.5 480.2 285.0 483.9 288.6 487.8 C292.2 491.7 295.7 495.9 299.3 500.0 C302.9 504.1 306.4 508.2 310.0 512.4 C313.6 516.6 317.1 520.4 320.7 525.0 C324.3 529.6 327.8 535.2 331.4 540.3 C335.0 545.4 338.5 550.0 342.1 555.4 C345.7 560.8 349.2 566.8 352.8 572.9 C356.4 579.0 359.9 585.0 363.5 592.0 C367.1 599.0 371.2 607.9 374.2 614.6 C377.2 621.3 380.4 629.3 381.6 632.3" stroke="#0000ff" stroke-width="0.6" fill="none" stroke-dasharray="5.5 6.5"/>
<path d="M197.8 340.4 C202.3 343.3 215.9 351.9 225.0 357.6 C234.1 363.4 245.1 370.1 252.2 374.9 C259.3 379.7 263.5 382.8 267.8 386.5 C272.1 390.2 274.4 393.6 277.9 396.9 C281.4 400.2 285.0 403.0 288.6 406.5 C292.2 410.0 295.7 413.9 299.3 417.7 C302.9 421.5 306.4 425.3 310.0 429.5 C313.6 433.7 317.1 438.4 320.7 443.0 C324.3 447.6 327.8 452.0 331.4 456.9 C335.0 461.8 338.5 466.9 342.1 472.3 C345.7 477.8 349.2 483.6 352.8 489.6 C356.4 495.6 359.9 501.5 363.5 508.3 C367.1 515.1 370.6 522.5 374.2 530.6 C377.8 538.7 381.3 547.3 384.9 556.9 C388.5 566.5 392.0 576.6 395.6 588.3 C399.2 600.0 404.1 619.7 406.3 627.0 C408.5 634.3 408.5 631.4 408.9 632.3" stroke="#0000ff" stroke-width="0.6" fill="none" stroke-dasharray="5.5 6.5"/>
<path d="M252.2 340.4 C254.0 341.4 258.7 344.1 262.9 346.4 C267.1 348.7 272.9 351.7 277.5 354.2 C282.1 356.7 286.1 358.9 290.4 361.3 C294.7 363.7 299.0 365.9 303.4 368.5 C307.8 371.1 313.2 374.3 317.0 376.9 C320.8 379.5 322.8 381.1 326.1 384.0 C329.4 386.9 333.4 390.5 337.0 394.5 C340.6 398.5 345.4 404.6 348.0 408.0 C350.6 411.4 350.2 411.4 352.8 415.2 C355.4 419.0 359.9 424.8 363.5 430.8 C367.1 436.8 370.6 443.5 374.2 451.1 C377.8 458.7 381.3 466.8 384.9 476.2 C388.5 485.6 392.0 496.1 395.6 507.7 C399.2 519.3 402.7 531.4 406.3 545.7 C409.9 560.0 414.1 579.1 417.0 593.5 C419.9 607.9 422.8 625.8 424.0 632.3" stroke="#0000ff" stroke-width="0.6" fill="none" stroke-dasharray="5.5 6.5"/>
<path d="M83.5 366.8 C89.6 366.8 112.6 366.9 120.0 367.0 C127.4 367.1 125.0 367.1 128.1 367.4 C131.2 367.7 135.2 368.1 138.8 368.7 C142.4 369.3 145.9 370.0 149.5 371.0 C153.1 372.0 156.6 373.5 160.2 374.9 C163.8 376.3 167.3 377.7 170.9 379.5 C174.5 381.3 178.0 383.5 181.6 385.8 C185.2 388.1 188.7 390.5 192.3 393.3 C195.9 396.1 199.4 399.5 203.0 402.6 C206.6 405.7 210.1 408.8 213.7 412.0 C217.3 415.2 220.8 418.4 224.4 421.8 C228.0 425.2 231.5 429.0 235.1 432.6 C238.7 436.2 242.2 439.6 245.8 443.2 C249.4 446.8 252.9 450.5 256.5 454.1 C260.1 457.7 263.6 461.3 267.2 465.0 C270.8 468.7 274.3 472.6 277.9 476.4 C281.5 480.2 285.0 483.9 288.6 487.8 C292.2 491.7 295.7 495.9 299.3 500.0 C302.9 504.1 306.4 508.2 310.0 512.4 C313.6 516.6 317.1 520.4 320.7 525.0 C324.3 529.6 327.8 535.2 331.4 540.3 C335.0 545.4 338.5 550.0 342.1 555.4 C345.7 560.8 349.2 566.8 352.8 572.9 C356.4 579.0 359.9 585.0 363.5 592.0 C367.1 599.0 371.2 607.9 374.2 614.6 C377.2 621.3 380.4 629.3 381.6 632.3" stroke="#ff0000" stroke-width="0.6" fill="none"/>
<path d="M83.5 367.5 C99.6 367.5 158.1 367.4 180.0 367.7 C201.9 368.0 205.8 368.4 215.0 369.2 C224.2 370.0 230.4 371.4 235.5 372.6 C240.6 373.8 242.3 374.7 245.8 376.2 C249.3 377.7 252.9 379.5 256.5 381.4 C260.1 383.3 263.6 385.2 267.2 387.8 C270.8 390.4 274.3 393.8 277.9 396.9 C281.5 400.0 285.0 403.0 288.6 406.5 C292.2 410.0 295.7 413.9 299.3 417.7 C302.9 421.5 306.4 425.3 310.0 429.5 C313.6 433.7 317.1 438.4 320.7 443.0 C324.3 447.6 327.8 452.0 331.4 456.9 C335.0 461.8 338.5 466.9 342.1 472.3 C345.7 477.8 349.2 483.6 352.8 489.6 C356.4 495.6 359.9 501.5 363.5 508.3 C367.1 515.1 370.6 522.5 374.2 530.6 C377.8 538.7 381.3 547.3 384.9 556.9 C388.5 566.5 392.0 576.6 395.6 588.3 C399.2 600.0 404.1 619.7 406.3 627.0 C408.5 634.3 408.5 631.4 408.9 632.3" stroke="#ff0000" stroke-width="0.6" fill="none"/>
<path d="M83.5 383.4 C102.9 383.4 172.2 383.4 200.0 383.4 C227.8 383.4 236.7 383.4 250.0 383.6 C263.3 383.8 271.7 384.2 280.0 384.6 C288.3 385.0 293.7 384.7 300.0 385.9 C306.3 387.1 311.9 388.9 318.0 391.9 C324.1 394.9 330.2 398.9 336.3 404.0 C342.4 409.1 349.9 417.7 354.4 422.2 C358.9 426.7 360.2 426.0 363.5 430.8 C366.8 435.6 370.6 443.5 374.2 451.1 C377.8 458.7 381.3 466.8 384.9 476.2 C388.5 485.6 392.0 496.1 395.6 507.7 C399.2 519.3 402.7 531.4 406.3 545.7 C409.9 560.0 414.1 579.1 417.0 593.5 C419.9 607.9 422.8 625.8 424.0 632.3" stroke="#ff0000" stroke-width="0.6" fill="none"/>
</g>
<path d="M85.3 665.0 L96.0 665.0 L106.7 665.0 L117.4 665.0 L128.1 665.0 L138.8 665.0 L149.5 665.0 L160.2 665.0 L170.9 665.0 L181.6 665.0 L192.3 665.0 L203.0 665.1 L213.7 665.3 L224.4 665.6 L235.1 666.0 L245.8 666.7 L256.5 667.6 L267.2 668.7 L277.9 669.9 L288.6 671.3 L299.3 673.0 L310.0 675.6 L320.7 679.6 L331.4 685.2 L342.1 692.1 L352.8 700.0 L363.5 710.3 L374.2 724.8 L384.9 742.9 L395.6 766.1 L406.3 793.8 L417.0 814.4 L427.7 818.0 L438.4 818.9" stroke="#000" stroke-width="0.9" fill="none"/>
<path d="M83.3 665.0 h4 M85.3 663.0 v4" stroke="#000" stroke-width="0.7"/>
<path d="M94.0 665.0 h4 M96.0 663.0 v4" stroke="#000" stroke-width="0.7"/>
<path d="M104.7 665.0 h4 M106.7 663.0 v4" stroke="#000" stroke-width="0.7"/>
<path d="M115.4 665.0 h4 M117.4 663.0 v4" stroke="#000" stroke-width="0.7"/>
<path d="M126.1 665.0 h4 M128.1 663.0 v4" stroke="#000" stroke-width="0.7"/>
<path d="M136.8 665.0 h4 M138.8 663.0 v4" stroke="#000" stroke-width="0.7"/>
<path d="M147.5 665.0 h4 M149.5 663.0 v4" stroke="#000" stroke-width="0.7"/>
<path d="M158.2 665.0 h4 M160.2 663.0 v4" stroke="#000" stroke-width="0.7"/>
<path d="M168.9 665.0 h4 M170.9 663.0 v4" stroke="#000" stroke-width="0.7"/>
<path d="M179.6 665.0 h4 M181.6 663.0 v4" stroke="#000" stroke-width="0.7"/>
<path d="M190.3 665.0 h4 M192.3 663.0 v4" stroke="#000" stroke-width="0.7"/>
<path d="M201.0 665.1 h4 M203.0 663.1 v4" stroke="#000" stroke-width="0.7"/>
<path d="M211.7 665.3 h4 M213.7 663.3 v4" stroke="#000" stroke-width="0.7"/>
<path d="M222.4 665.6 h4 M224.4 663.6 v4" stroke="#000" stroke-width="0.7"/>
<path d="M233.1 666.0 h4 M235.1 664.0 v4" stroke="#000" stroke-width="0.7"/>
<path d="M243.8 666.7 h4 M245.8 664.7 v4" stroke="#000" stroke-width="0.7"/>
<path d="M254.5 667.6 h4 M256.5 665.6 v4" stroke="#000" stroke-width="0.7"/>
<path d="M265.2 668.7 h4 M267.2 666.7 v4" stroke="#000" stroke-width="0.7"/>
<path d="M275.9 669.9 h4 M277.9 667.9 v4" stroke="#000" stroke-width="0.7"/>
<path d="M286.6 671.3 h4 M288.6 669.3 v4" stroke="#000" stroke-width="0.7"/>
<path d="M297.3 673.0 h4 M299.3 671.0 v4" stroke="#000" stroke-width="0.7"/>
<path d="M308.0 675.6 h4 M310.0 673.6 v4" stroke="#000" stroke-width="0.7"/>
<path d="M318.7 679.6 h4 M320.7 677.6 v4" stroke="#000" stroke-width="0.7"/>
<path d="M329.4 685.2 h4 M331.4 683.2 v4" stroke="#000" stroke-width="0.7"/>
<path d="M340.1 692.1 h4 M342.1 690.1 v4" stroke="#000" stroke-width="0.7"/>
<path d="M350.8 700.0 h4 M352.8 698.0 v4" stroke="#000" stroke-width="0.7"/>
<path d="M361.5 710.3 h4 M363.5 708.3 v4" stroke="#000" stroke-width="0.7"/>
<path d="M372.2 724.8 h4 M374.2 722.8 v4" stroke="#000" stroke-width="0.7"/>
<path d="M382.9 742.9 h4 M384.9 740.9 v4" stroke="#000" stroke-width="0.7"/>
<path d="M393.6 766.1 h4 M395.6 764.1 v4" stroke="#000" stroke-width="0.7"/>
<path d="M404.3 793.8 h4 M406.3 791.8 v4" stroke="#000" stroke-width="0.7"/>
<path d="M415.0 814.4 h4 M417.0 812.4 v4" stroke="#000" stroke-width="0.7"/>
<path d="M425.7 818.0 h4 M427.7 816.0 v4" stroke="#000" stroke-width="0.7"/>
<path d="M436.4 818.9 h4 M438.4 816.9 v4" stroke="#000" stroke-width="0.7"/>
<path d="M81.8 665.0 h7.0 M85.3 661.5 v7.0 M82.6 662.3 l5.4 5.4 M82.6 667.7 l5.4 -5.4" stroke="#0000ff" stroke-width="0.7" fill="none"/>
<path d="M92.5 665.0 h7.0 M96.0 661.5 v7.0 M93.3 662.3 l5.4 5.4 M93.3 667.7 l5.4 -5.4" stroke="#0000ff" stroke-width="0.7" fill="none"/>
<path d="M103.2 665.0 h7.0 M106.7 661.5 v7.0 M104.0 662.3 l5.4 5.4 M104.0 667.7 l5.4 -5.4" stroke="#0000ff" stroke-width="0.7" fill="none"/>
<path d="M113.9 665.0 h7.0 M117.4 661.5 v7.0 M114.7 662.3 l5.4 5.4 M114.7 667.7 l5.4 -5.4" stroke="#0000ff" stroke-width="0.7" fill="none"/>
<path d="M124.6 665.0 h7.0 M128.1 661.5 v7.0 M125.4 662.3 l5.4 5.4 M125.4 667.7 l5.4 -5.4" stroke="#0000ff" stroke-width="0.7" fill="none"/>
<path d="M135.3 665.0 h7.0 M138.8 661.5 v7.0 M136.1 662.3 l5.4 5.4 M136.1 667.7 l5.4 -5.4" stroke="#0000ff" stroke-width="0.7" fill="none"/>
<path d="M146.0 665.0 h7.0 M149.5 661.5 v7.0 M146.8 662.3 l5.4 5.4 M146.8 667.7 l5.4 -5.4" stroke="#0000ff" stroke-width="0.7" fill="none"/>
<path d="M156.7 665.0 h7.0 M160.2 661.5 v7.0 M157.5 662.3 l5.4 5.4 M157.5 667.7 l5.4 -5.4" stroke="#0000ff" stroke-width="0.7" fill="none"/>
<path d="M167.4 665.0 h7.0 M170.9 661.5 v7.0 M168.2 662.3 l5.4 5.4 M168.2 667.7 l5.4 -5.4" stroke="#0000ff" stroke-width="0.7" fill="none"/>
<path d="M178.1 665.0 h7.0 M181.6 661.5 v7.0 M178.9 662.3 l5.4 5.4 M178.9 667.7 l5.4 -5.4" stroke="#0000ff" stroke-width="0.7" fill="none"/>
<path d="M188.8 665.1 h7.0 M192.3 661.6 v7.0 M189.6 662.4 l5.4 5.4 M189.6 667.8 l5.4 -5.4" stroke="#0000ff" stroke-width="0.7" fill="none"/>
<path d="M199.5 665.1 h7.0 M203.0 661.6 v7.0 M200.3 662.4 l5.4 5.4 M200.3 667.8 l5.4 -5.4" stroke="#0000ff" stroke-width="0.7" fill="none"/>
<path d="M210.2 665.3 h7.0 M213.7 661.8 v7.0 M211.0 662.6 l5.4 5.4 M211.0 668.0 l5.4 -5.4" stroke="#0000ff" stroke-width="0.7" fill="none"/>
<path d="M220.9 665.6 h7.0 M224.4 662.1 v7.0 M221.7 662.9 l5.4 5.4 M221.7 668.3 l5.4 -5.4" stroke="#0000ff" stroke-width="0.7" fill="none"/>
<path d="M231.6 666.4 h7.0 M235.1 662.9 v7.0 M232.4 663.7 l5.4 5.4 M232.4 669.1 l5.4 -5.4" stroke="#0000ff" stroke-width="0.7" fill="none"/>
<path d="M242.3 666.9 h7.0 M245.8 663.4 v7.0 M243.1 664.2 l5.4 5.4 M243.1 669.6 l5.4 -5.4" stroke="#0000ff" stroke-width="0.7" fill="none"/>
<path d="M253.0 667.7 h7.0 M256.5 664.2 v7.0 M253.8 665.0 l5.4 5.4 M253.8 670.4 l5.4 -5.4" stroke="#0000ff" stroke-width="0.7" fill="none"/>
<path d="M263.7 668.7 h7.0 M267.2 665.2 v7.0 M264.5 666.0 l5.4 5.4 M264.5 671.4 l5.4 -5.4" stroke="#0000ff" stroke-width="0.7" fill="none"/>
<path d="M274.4 670.0 h7.0 M277.9 666.5 v7.0 M275.2 667.3 l5.4 5.4 M275.2 672.7 l5.4 -5.4" stroke="#0000ff" stroke-width="0.7" fill="none"/>
<path d="M285.1 671.5 h7.0 M288.6 668.0 v7.0 M285.9 668.8 l5.4 5.4 M285.9 674.2 l5.4 -5.4" stroke="#0000ff" stroke-width="0.7" fill="none"/>
<path d="M295.8 674.0 h7.0 M299.3 670.5 v7.0 M296.6 671.3 l5.4 5.4 M296.6 676.7 l5.4 -5.4" stroke="#0000ff" stroke-width="0.7" fill="none"/>
<path d="M306.5 677.1 h7.0 M310.0 673.6 v7.0 M307.3 674.4 l5.4 5.4 M307.3 679.8 l5.4 -5.4" stroke="#0000ff" stroke-width="0.7" fill="none"/>
<path d="M317.2 681.5 h7.0 M320.7 678.0 v7.0 M318.0 678.8 l5.4 5.4 M318.0 684.2 l5.4 -5.4" stroke="#0000ff" stroke-width="0.7" fill="none"/>
<path d="M327.9 687.9 h7.0 M331.4 684.4 v7.0 M328.7 685.2 l5.4 5.4 M328.7 690.6 l5.4 -5.4" stroke="#0000ff" stroke-width="0.7" fill="none"/>
<path d="M338.6 696.9 h7.0 M342.1 693.4 v7.0 M339.4 694.2 l5.4 5.4 M339.4 699.6 l5.4 -5.4" stroke="#0000ff" stroke-width="0.7" fill="none"/>
<path d="M349.3 708.7 h7.0 M352.8 705.2 v7.0 M350.1 706.0 l5.4 5.4 M350.1 711.4 l5.4 -5.4" stroke="#0000ff" stroke-width="0.7" fill="none"/>
<path d="M360.0 724.8 h7.0 M363.5 721.3 v7.0 M360.8 722.1 l5.4 5.4 M360.8 727.5 l5.4 -5.4" stroke="#0000ff" stroke-width="0.7" fill="none"/>
<path d="M370.7 743.8 h7.0 M374.2 740.3 v7.0 M371.5 741.1 l5.4 5.4 M371.5 746.5 l5.4 -5.4" stroke="#0000ff" stroke-width="0.7" fill="none"/>
<path d="M381.4 767.6 h7.0 M384.9 764.1 v7.0 M382.2 764.9 l5.4 5.4 M382.2 770.3 l5.4 -5.4" stroke="#0000ff" stroke-width="0.7" fill="none"/>
<path d="M392.1 795.4 h7.0 M395.6 791.9 v7.0 M392.9 792.7 l5.4 5.4 M392.9 798.1 l5.4 -5.4" stroke="#0000ff" stroke-width="0.7" fill="none"/>
<path d="M402.8 815.9 h7.0 M406.3 812.4 v7.0 M403.6 813.2 l5.4 5.4 M403.6 818.6 l5.4 -5.4" stroke="#0000ff" stroke-width="0.7" fill="none"/>
<path d="M413.5 822.0 h7.0 M417.0 818.5 v7.0 M414.3 819.3 l5.4 5.4 M414.3 824.7 l5.4 -5.4" stroke="#0000ff" stroke-width="0.7" fill="none"/>
<path d="M424.2 822.6 h7.0 M427.7 819.1 v7.0 M425.0 819.9 l5.4 5.4 M425.0 825.3 l5.4 -5.4" stroke="#0000ff" stroke-width="0.7" fill="none"/>
<path d="M434.9 822.6 h7.0 M438.4 819.1 v7.0 M435.7 819.9 l5.4 5.4 M435.7 825.3 l5.4 -5.4" stroke="#0000ff" stroke-width="0.7" fill="none"/>
<path d="M85.3 661.8 L88.3 667.2 L82.2 667.2 Z" fill="none" stroke="#ff0000" stroke-width="0.6"/>
<path d="M96.0 661.8 L99.0 667.2 L93.0 667.2 Z" fill="none" stroke="#ff0000" stroke-width="0.6"/>
<path d="M106.7 661.8 L109.7 667.2 L103.6 667.2 Z" fill="none" stroke="#ff0000" stroke-width="0.6"/>
<path d="M117.4 661.8 L120.4 667.2 L114.3 667.2 Z" fill="none" stroke="#ff0000" stroke-width="0.6"/>
<path d="M128.1 661.8 L131.2 667.2 L125.0 667.2 Z" fill="none" stroke="#ff0000" stroke-width="0.6"/>
<path d="M138.8 661.8 L141.9 667.2 L135.8 667.2 Z" fill="none" stroke="#ff0000" stroke-width="0.6"/>
<path d="M149.5 661.8 L152.6 667.2 L146.4 667.2 Z" fill="none" stroke="#ff0000" stroke-width="0.6"/>
<path d="M160.2 661.8 L163.2 667.2 L157.1 667.2 Z" fill="none" stroke="#ff0000" stroke-width="0.6"/>
<path d="M170.9 661.8 L173.9 667.2 L167.8 667.2 Z" fill="none" stroke="#ff0000" stroke-width="0.6"/>
<path d="M181.6 661.8 L184.7 667.2 L178.5 667.2 Z" fill="none" stroke="#ff0000" stroke-width="0.6"/>
<path d="M192.3 662.1 L195.4 667.5 L189.2 667.5 Z" fill="none" stroke="#ff0000" stroke-width="0.6"/>
<path d="M203.0 662.4 L206.1 667.8 L199.9 667.8 Z" fill="none" stroke="#ff0000" stroke-width="0.6"/>
<path d="M213.7 662.6 L216.8 668.0 L210.6 668.0 Z" fill="none" stroke="#ff0000" stroke-width="0.6"/>
<path d="M224.4 663.2 L227.4 668.6 L221.3 668.6 Z" fill="none" stroke="#ff0000" stroke-width="0.6"/>
<path d="M235.1 664.8 L238.1 670.2 L232.0 670.2 Z" fill="none" stroke="#ff0000" stroke-width="0.6"/>
<path d="M245.8 667.8 L248.9 673.2 L242.8 673.2 Z" fill="none" stroke="#ff0000" stroke-width="0.6"/>
<path d="M256.5 672.8 L259.6 678.2 L253.4 678.2 Z" fill="none" stroke="#ff0000" stroke-width="0.6"/>
<path d="M267.2 678.7 L270.2 684.1 L264.1 684.1 Z" fill="none" stroke="#ff0000" stroke-width="0.6"/>
<path d="M277.9 687.0 L280.9 692.4 L274.8 692.4 Z" fill="none" stroke="#ff0000" stroke-width="0.6"/>
<path d="M288.6 696.1 L291.6 701.5 L285.5 701.5 Z" fill="none" stroke="#ff0000" stroke-width="0.6"/>
<path d="M299.3 707.6 L302.4 713.0 L296.2 713.0 Z" fill="none" stroke="#ff0000" stroke-width="0.6"/>
<path d="M310.0 718.3 L313.1 723.7 L306.9 723.7 Z" fill="none" stroke="#ff0000" stroke-width="0.6"/>
<path d="M320.7 731.5 L323.8 736.9 L317.6 736.9 Z" fill="none" stroke="#ff0000" stroke-width="0.6"/>
<path d="M331.4 746.3 L334.4 751.7 L328.3 751.7 Z" fill="none" stroke="#ff0000" stroke-width="0.6"/>
<path d="M342.1 760.2 L345.1 765.6 L339.0 765.6 Z" fill="none" stroke="#ff0000" stroke-width="0.6"/>
<path d="M352.8 777.0 L355.9 782.4 L349.8 782.4 Z" fill="none" stroke="#ff0000" stroke-width="0.6"/>
<path d="M363.5 795.8 L366.6 801.2 L360.4 801.2 Z" fill="none" stroke="#ff0000" stroke-width="0.6"/>
<path d="M374.2 815.7 L377.2 821.1 L371.1 821.1 Z" fill="none" stroke="#ff0000" stroke-width="0.6"/>
<path d="M384.9 833.0 L387.9 838.4 L381.8 838.4 Z" fill="none" stroke="#ff0000" stroke-width="0.6"/>
<path d="M395.6 842.7 L398.6 848.1 L392.5 848.1 Z" fill="none" stroke="#ff0000" stroke-width="0.6"/>
<path d="M406.3 844.5 L409.4 849.9 L403.2 849.9 Z" fill="none" stroke="#ff0000" stroke-width="0.6"/>
<path d="M417.0 845.1 L420.1 850.5 L413.9 850.5 Z" fill="none" stroke="#ff0000" stroke-width="0.6"/>
<path d="M427.7 845.1 L430.8 850.5 L424.6 850.5 Z" fill="none" stroke="#ff0000" stroke-width="0.6"/>
<path d="M438.4 845.1 L441.4 850.5 L435.3 850.5 Z" fill="none" stroke="#ff0000" stroke-width="0.6"/>
<circle cx="85.3" cy="665.1" r="3.05" fill="#000"/>
<circle cx="96.0" cy="665.1" r="3.05" fill="#000"/>
<circle cx="106.7" cy="665.1" r="3.05" fill="#000"/>
<circle cx="117.4" cy="665.3" r="3.05" fill="#000"/>
<circle cx="128.1" cy="665.6" r="3.05" fill="#000"/>
<circle cx="138.8" cy="666.4" r="3.05" fill="#000"/>
<circle cx="149.5" cy="667.7" r="3.05" fill="#000"/>
<circle cx="160.2" cy="669.7" r="3.05" fill="#000"/>
<circle cx="170.9" cy="674.1" r="3.05" fill="#000"/>
<circle cx="181.6" cy="679.6" r="3.05" fill="#000"/>
<circle cx="192.3" cy="686.8" r="3.05" fill="#000"/>
<circle cx="203.0" cy="695.4" r="3.05" fill="#000"/>
<circle cx="213.7" cy="704.5" r="3.05" fill="#000"/>
<circle cx="224.4" cy="714.1" r="3.05" fill="#000"/>
<circle cx="235.1" cy="724.7" r="3.05" fill="#000"/>
<circle cx="245.8" cy="735.0" r="3.05" fill="#000"/>
<circle cx="256.5" cy="745.8" r="3.05" fill="#000"/>
<circle cx="267.2" cy="756.8" r="3.05" fill="#000"/>
<circle cx="277.9" cy="768.0" r="3.05" fill="#000"/>
<circle cx="288.6" cy="780.2" r="3.05" fill="#000"/>
<circle cx="299.3" cy="791.8" r="3.05" fill="#000"/>
<circle cx="310.0" cy="804.0" r="3.05" fill="#000"/>
<circle cx="320.7" cy="817.1" r="3.05" fill="#000"/>
<circle cx="331.4" cy="831.0" r="3.05" fill="#000"/>
<circle cx="342.1" cy="845.9" r="3.05" fill="#000"/>
<circle cx="352.8" cy="859.8" r="3.05" fill="#000"/>
<circle cx="363.5" cy="873.1" r="3.05" fill="#000"/>
<circle cx="374.2" cy="882.1" r="3.05" fill="#000"/>
<circle cx="384.9" cy="886.1" r="3.05" fill="#000"/>
<circle cx="395.6" cy="887.6" r="3.05" fill="#000"/>
<circle cx="406.3" cy="887.6" r="3.05" fill="#000"/>
<circle cx="417.0" cy="887.6" r="3.05" fill="#000"/>
<circle cx="427.7" cy="887.6" r="3.05" fill="#000"/>
<circle cx="438.4" cy="887.6" r="3.05" fill="#000"/>
<g clip-path="url(#cpc)">
<path d="M83.5 658.0 C87.9 658.1 100.6 658.2 110.0 658.4 C119.4 658.6 130.0 659.1 140.0 659.4 C150.0 659.7 161.7 659.8 170.0 660.0 C178.3 660.2 183.2 660.2 190.0 660.5 C196.8 660.8 205.5 661.2 211.0 661.7 C216.5 662.2 219.0 662.5 223.0 663.3 C227.0 664.1 231.3 665.4 235.0 666.5 C238.7 667.6 241.6 668.7 245.0 670.0 C248.4 671.3 251.8 672.6 255.2 674.4 C258.6 676.2 262.5 678.6 265.5 680.6 C268.5 682.6 270.5 684.3 273.3 686.3 C276.1 688.3 279.8 690.6 282.4 692.8 C284.9 695.0 285.8 696.3 288.6 699.3 C291.4 702.3 295.7 707.1 299.3 710.8 C302.9 714.5 306.4 717.5 310.0 721.5 C313.6 725.5 317.1 730.0 320.7 734.7 C324.3 739.4 327.8 744.7 331.4 749.5 C335.0 754.3 338.5 758.3 342.1 763.4 C345.7 768.5 349.2 774.3 352.8 780.2 C356.4 786.1 359.9 792.5 363.5 799.0 C367.1 805.5 370.9 811.0 374.4 819.5 C377.9 828.0 381.4 841.4 384.4 850.0 C387.4 858.6 390.0 863.5 392.6 871.4 C395.2 879.3 397.7 888.7 400.1 897.5 C402.5 906.3 406.0 919.8 407.2 924.2" stroke="#0000ff" stroke-width="0.6" fill="none" stroke-dasharray="5.5 6.5"/>
<path d="M83.5 675.3 C94.6 675.3 127.2 675.3 150.0 675.3 C172.8 675.3 200.0 675.2 220.0 675.3 C240.0 675.3 257.7 675.3 270.0 675.6 C282.3 675.9 287.6 676.4 293.7 676.9 C299.8 677.4 302.9 678.0 306.6 678.7 C310.3 679.4 313.6 680.7 316.0 681.2 C318.4 681.7 318.1 680.4 320.7 681.5 C323.3 682.6 327.8 685.3 331.4 687.9 C335.0 690.5 338.5 693.4 342.1 696.9 C345.7 700.4 349.2 704.1 352.8 708.7 C356.4 713.4 359.9 718.9 363.5 724.8 C367.1 730.6 370.6 736.7 374.2 743.8 C377.8 750.9 381.3 759.0 384.9 767.6 C388.5 776.2 392.7 786.7 395.6 795.4 C398.5 804.1 400.2 810.9 402.5 820.0 C404.8 829.1 407.0 839.9 409.4 850.0 C411.8 860.1 414.7 871.4 416.7 880.9 C418.7 890.4 420.2 899.8 421.5 907.0 C422.8 914.2 423.8 921.3 424.3 924.2" stroke="#0000ff" stroke-width="0.6" fill="none" stroke-dasharray="5.5 6.5"/>
<path d="M170.9 674.1 C172.7 675.0 178.0 677.5 181.6 679.6 C185.2 681.7 188.7 684.2 192.3 686.8 C195.9 689.4 199.4 692.4 203.0 695.4 C206.6 698.4 210.1 701.4 213.7 704.5 C217.3 707.6 220.8 710.7 224.4 714.1 C228.0 717.5 231.5 721.2 235.1 724.7 C238.7 728.2 242.2 731.5 245.8 735.0 C249.4 738.5 252.9 742.2 256.5 745.8 C260.1 749.4 263.6 753.1 267.2 756.8 C270.8 760.5 274.3 764.1 277.9 768.0 C281.5 771.9 285.0 776.2 288.6 780.2 C292.2 784.2 295.7 787.8 299.3 791.8 C302.9 795.8 306.4 799.8 310.0 804.0 C313.6 808.2 317.1 812.6 320.7 817.1 C324.3 821.6 327.8 826.2 331.4 831.0 C335.0 835.8 338.4 840.3 342.1 845.9 C345.8 851.5 349.9 857.7 353.8 864.7 C357.7 871.7 362.1 880.5 365.6 888.0 C369.2 895.5 372.5 903.4 375.1 909.4 C377.7 915.4 380.1 921.7 381.1 924.2" stroke="#0000ff" stroke-width="0.6" fill="none" stroke-dasharray="5.5 6.5"/>
<path d="M83.5 699.3 C86.2 698.0 94.8 693.9 100.0 691.5 C105.2 689.1 110.3 686.9 115.0 685.0 C119.7 683.1 123.9 681.4 128.4 680.0 C132.9 678.6 137.7 677.2 142.0 676.4 C146.3 675.6 150.5 675.3 154.0 675.2 C157.5 675.1 160.0 675.3 163.0 675.7 C166.0 676.1 168.9 676.6 172.0 677.5 C175.1 678.4 178.2 679.2 181.6 680.8 C185.0 682.3 188.7 684.4 192.3 686.8 C195.9 689.2 199.4 692.4 203.0 695.4 C206.6 698.4 210.1 701.4 213.7 704.5 C217.3 707.6 220.8 710.7 224.4 714.1 C228.0 717.5 231.5 721.2 235.1 724.7 C238.7 728.2 242.2 731.5 245.8 735.0 C249.4 738.5 252.9 742.2 256.5 745.8 C260.1 749.4 263.6 753.1 267.2 756.8 C270.8 760.5 274.3 764.1 277.9 768.0 C281.5 771.9 285.0 776.2 288.6 780.2 C292.2 784.2 295.7 787.8 299.3 791.8 C302.9 795.8 306.4 799.8 310.0 804.0 C313.6 808.2 317.1 812.6 320.7 817.1 C324.3 821.6 327.8 826.2 331.4 831.0 C335.0 835.8 338.4 840.3 342.1 845.9 C345.8 851.5 349.9 857.7 353.8 864.7 C357.7 871.7 362.1 880.5 365.6 888.0 C369.2 895.5 372.5 903.4 375.1 909.4 C377.7 915.4 380.1 921.7 381.1 924.2" stroke="#ff0000" stroke-width="0.6" fill="none"/>
<path d="M83.5 742.6 C89.6 739.6 107.2 730.9 120.0 724.6 C132.8 718.3 149.4 710.1 160.0 705.0 C170.6 699.9 177.0 696.8 183.7 693.8 C190.4 690.8 194.2 689.4 200.0 687.3 C205.8 685.2 212.3 682.8 218.2 681.2 C224.1 679.6 230.1 678.1 235.4 677.6 C240.7 677.1 245.9 677.5 250.0 678.0 C254.1 678.5 257.1 679.9 260.0 680.5 C262.9 681.1 264.2 680.3 267.2 681.9 C270.2 683.5 274.3 687.3 277.9 690.2 C281.5 693.1 285.0 695.9 288.6 699.3 C292.2 702.7 295.7 707.1 299.3 710.8 C302.9 714.5 306.4 717.5 310.0 721.5 C313.6 725.5 317.1 730.0 320.7 734.7 C324.3 739.4 327.8 744.7 331.4 749.5 C335.0 754.3 338.5 758.3 342.1 763.4 C345.7 768.5 349.2 774.3 352.8 780.2 C356.4 786.1 359.9 792.5 363.5 799.0 C367.1 805.5 370.9 811.0 374.4 819.5 C377.9 828.0 381.4 841.4 384.4 850.0 C387.4 858.6 390.0 863.5 392.6 871.4 C395.2 879.3 397.7 888.7 400.1 897.5 C402.5 906.3 406.0 919.8 407.2 924.2" stroke="#ff0000" stroke-width="0.6" fill="none"/>
<path d="M83.5 800.3 C92.9 795.6 122.2 780.8 140.0 772.0 C157.8 763.2 173.3 755.9 190.0 747.8 C206.7 739.7 226.7 729.8 240.0 723.5 C253.3 717.2 261.7 713.6 270.0 710.0 C278.3 706.4 284.2 704.1 290.0 702.0 C295.8 699.9 300.8 698.3 305.0 697.3 C309.2 696.3 311.2 695.8 315.0 696.0 C318.8 696.2 323.4 696.8 328.0 698.6 C332.6 700.4 338.2 703.6 342.3 706.6 C346.4 709.6 349.4 712.8 352.9 716.6 C356.4 720.4 359.9 724.3 363.5 729.5 C367.1 734.7 371.1 741.3 374.4 747.6 C377.7 753.9 379.9 759.3 383.4 767.3 C386.9 775.3 392.4 786.6 395.6 795.4 C398.8 804.2 400.2 810.9 402.5 820.0 C404.8 829.1 407.0 839.9 409.4 850.0 C411.8 860.1 414.7 871.4 416.7 880.9 C418.7 890.4 420.2 899.8 421.5 907.0 C422.8 914.2 423.8 921.3 424.3 924.2" stroke="#ff0000" stroke-width="0.6" fill="none"/>
</g>
<path d="M83.5 77.6 h2.3 M438.9 77.6 h-2.3 M83.5 70.3 h2.3 M438.9 70.3 h-2.3 M83.5 65.1 h2.3 M438.9 65.1 h-2.3 M83.5 61.1 h2.3 M438.9 61.1 h-2.3 M83.5 57.8 h2.3 M438.9 57.8 h-2.3 M83.5 55.0 h2.3 M438.9 55.0 h-2.3 M83.5 52.5 h2.3 M438.9 52.5 h-2.3 M83.5 50.4 h2.3 M438.9 50.4 h-2.3 M83.5 90.2 h4.6 M438.9 90.2 h-4.6 M83.5 119.3 h2.3 M438.9 119.3 h-2.3 M83.5 112.0 h2.3 M438.9 112.0 h-2.3 M83.5 106.8 h2.3 M438.9 106.8 h-2.3 M83.5 102.8 h2.3 M438.9 102.8 h-2.3 M83.5 99.5 h2.3 M438.9 99.5 h-2.3 M83.5 96.7 h2.3 M438.9 96.7 h-2.3 M83.5 94.2 h2.3 M438.9 94.2 h-2.3 M83.5 92.1 h2.3 M438.9 92.1 h-2.3 M83.5 131.9 h4.6 M438.9 131.9 h-4.6 M83.5 161.0 h2.3 M438.9 161.0 h-2.3 M83.5 153.7 h2.3 M438.9 153.7 h-2.3 M83.5 148.5 h2.3 M438.9 148.5 h-2.3 M83.5 144.5 h2.3 M438.9 144.5 h-2.3 M83.5 141.2 h2.3 M438.9 141.2 h-2.3 M83.5 138.4 h2.3 M438.9 138.4 h-2.3 M83.5 135.9 h2.3 M438.9 135.9 h-2.3 M83.5 133.8 h2.3 M438.9 133.8 h-2.3 M83.5 173.6 h4.6 M438.9 173.6 h-4.6 M83.5 202.7 h2.3 M438.9 202.7 h-2.3 M83.5 195.4 h2.3 M438.9 195.4 h-2.3 M83.5 190.2 h2.3 M438.9 190.2 h-2.3 M83.5 186.2 h2.3 M438.9 186.2 h-2.3 M83.5 182.9 h2.3 M438.9 182.9 h-2.3 M83.5 180.1 h2.3 M438.9 180.1 h-2.3 M83.5 177.6 h2.3 M438.9 177.6 h-2.3 M83.5 175.5 h2.3 M438.9 175.5 h-2.3 M83.5 215.3 h4.6 M438.9 215.3 h-4.6 M83.5 244.4 h2.3 M438.9 244.4 h-2.3 M83.5 237.1 h2.3 M438.9 237.1 h-2.3 M83.5 231.9 h2.3 M438.9 231.9 h-2.3 M83.5 227.9 h2.3 M438.9 227.9 h-2.3 M83.5 224.6 h2.3 M438.9 224.6 h-2.3 M83.5 221.8 h2.3 M438.9 221.8 h-2.3 M83.5 219.3 h2.3 M438.9 219.3 h-2.3 M83.5 217.2 h2.3 M438.9 217.2 h-2.3 M83.5 257.0 h4.6 M438.9 257.0 h-4.6 M83.5 286.1 h2.3 M438.9 286.1 h-2.3 M83.5 278.8 h2.3 M438.9 278.8 h-2.3 M83.5 273.6 h2.3 M438.9 273.6 h-2.3 M83.5 269.6 h2.3 M438.9 269.6 h-2.3 M83.5 266.3 h2.3 M438.9 266.3 h-2.3 M83.5 263.5 h2.3 M438.9 263.5 h-2.3 M83.5 261.0 h2.3 M438.9 261.0 h-2.3 M83.5 258.9 h2.3 M438.9 258.9 h-2.3 M83.5 298.7 h4.6 M438.9 298.7 h-4.6 M83.5 327.8 h2.3 M438.9 327.8 h-2.3 M83.5 320.5 h2.3 M438.9 320.5 h-2.3 M83.5 315.3 h2.3 M438.9 315.3 h-2.3 M83.5 311.3 h2.3 M438.9 311.3 h-2.3 M83.5 308.0 h2.3 M438.9 308.0 h-2.3 M83.5 305.2 h2.3 M438.9 305.2 h-2.3 M83.5 302.7 h2.3 M438.9 302.7 h-2.3 M83.5 300.6 h2.3 M438.9 300.6 h-2.3 M109.1 48.5 v2.3 M109.1 340.4 v-2.3 M124.1 48.5 v2.3 M124.1 340.4 v-2.3 M134.7 48.5 v2.3 M134.7 340.4 v-2.3 M143.0 48.5 v2.3 M143.0 340.4 v-2.3 M149.7 48.5 v2.3 M149.7 340.4 v-2.3 M155.4 48.5 v2.3 M155.4 340.4 v-2.3 M160.4 48.5 v2.3 M160.4 340.4 v-2.3 M164.7 48.5 v2.3 M164.7 340.4 v-2.3 M168.6 48.5 v4.6 M168.6 340.4 v-4.6 M194.2 48.5 v2.3 M194.2 340.4 v-2.3 M209.2 48.5 v2.3 M209.2 340.4 v-2.3 M219.8 48.5 v2.3 M219.8 340.4 v-2.3 M228.1 48.5 v2.3 M228.1 340.4 v-2.3 M234.8 48.5 v2.3 M234.8 340.4 v-2.3 M240.5 48.5 v2.3 M240.5 340.4 v-2.3 M245.5 48.5 v2.3 M245.5 340.4 v-2.3 M249.8 48.5 v2.3 M249.8 340.4 v-2.3 M253.7 48.5 v4.6 M253.7 340.4 v-4.6 M279.3 48.5 v2.3 M279.3 340.4 v-2.3 M294.3 48.5 v2.3 M294.3 340.4 v-2.3 M304.9 48.5 v2.3 M304.9 340.4 v-2.3 M313.2 48.5 v2.3 M313.2 340.4 v-2.3 M319.9 48.5 v2.3 M319.9 340.4 v-2.3 M325.6 48.5 v2.3 M325.6 340.4 v-2.3 M330.6 48.5 v2.3 M330.6 340.4 v-2.3 M334.9 48.5 v2.3 M334.9 340.4 v-2.3 M338.8 48.5 v4.6 M338.8 340.4 v-4.6 M364.4 48.5 v2.3 M364.4 340.4 v-2.3 M379.4 48.5 v2.3 M379.4 340.4 v-2.3 M390.0 48.5 v2.3 M390.0 340.4 v-2.3 M398.3 48.5 v2.3 M398.3 340.4 v-2.3 M405.0 48.5 v2.3 M405.0 340.4 v-2.3 M410.7 48.5 v2.3 M410.7 340.4 v-2.3 M415.7 48.5 v2.3 M415.7 340.4 v-2.3 M420.0 48.5 v2.3 M420.0 340.4 v-2.3 M423.9 48.5 v4.6 M423.9 340.4 v-4.6 M83.5 369.5 h2.3 M438.9 369.5 h-2.3 M83.5 362.2 h2.3 M438.9 362.2 h-2.3 M83.5 357.0 h2.3 M438.9 357.0 h-2.3 M83.5 353.0 h2.3 M438.9 353.0 h-2.3 M83.5 349.7 h2.3 M438.9 349.7 h-2.3 M83.5 346.9 h2.3 M438.9 346.9 h-2.3 M83.5 344.4 h2.3 M438.9 344.4 h-2.3 M83.5 342.3 h2.3 M438.9 342.3 h-2.3 M83.5 382.1 h4.6 M438.9 382.1 h-4.6 M83.5 411.2 h2.3 M438.9 411.2 h-2.3 M83.5 403.9 h2.3 M438.9 403.9 h-2.3 M83.5 398.7 h2.3 M438.9 398.7 h-2.3 M83.5 394.7 h2.3 M438.9 394.7 h-2.3 M83.5 391.4 h2.3 M438.9 391.4 h-2.3 M83.5 388.6 h2.3 M438.9 388.6 h-2.3 M83.5 386.1 h2.3 M438.9 386.1 h-2.3 M83.5 384.0 h2.3 M438.9 384.0 h-2.3 M83.5 423.8 h4.6 M438.9 423.8 h-4.6 M83.5 452.9 h2.3 M438.9 452.9 h-2.3 M83.5 445.6 h2.3 M438.9 445.6 h-2.3 M83.5 440.4 h2.3 M438.9 440.4 h-2.3 M83.5 436.4 h2.3 M438.9 436.4 h-2.3 M83.5 433.1 h2.3 M438.9 433.1 h-2.3 M83.5 430.3 h2.3 M438.9 430.3 h-2.3 M83.5 427.8 h2.3 M438.9 427.8 h-2.3 M83.5 425.7 h2.3 M438.9 425.7 h-2.3 M83.5 465.5 h4.6 M438.9 465.5 h-4.6 M83.5 494.6 h2.3 M438.9 494.6 h-2.3 M83.5 487.3 h2.3 M438.9 487.3 h-2.3 M83.5 482.1 h2.3 M438.9 482.1 h-2.3 M83.5 478.1 h2.3 M438.9 478.1 h-2.3 M83.5 474.8 h2.3 M438.9 474.8 h-2.3 M83.5 472.0 h2.3 M438.9 472.0 h-2.3 M83.5 469.5 h2.3 M438.9 469.5 h-2.3 M83.5 467.4 h2.3 M438.9 467.4 h-2.3 M83.5 507.2 h4.6 M438.9 507.2 h-4.6 M83.5 536.3 h2.3 M438.9 536.3 h-2.3 M83.5 529.0 h2.3 M438.9 529.0 h-2.3 M83.5 523.8 h2.3 M438.9 523.8 h-2.3 M83.5 519.8 h2.3 M438.9 519.8 h-2.3 M83.5 516.5 h2.3 M438.9 516.5 h-2.3 M83.5 513.7 h2.3 M438.9 513.7 h-2.3 M83.5 511.2 h2.3 M438.9 511.2 h-2.3 M83.5 509.1 h2.3 M438.9 509.1 h-2.3 M83.5 548.9 h4.6 M438.9 548.9 h-4.6 M83.5 578.0 h2.3 M438.9 578.0 h-2.3 M83.5 570.7 h2.3 M438.9 570.7 h-2.3 M83.5 565.5 h2.3 M438.9 565.5 h-2.3 M83.5 561.5 h2.3 M438.9 561.5 h-2.3 M83.5 558.2 h2.3 M438.9 558.2 h-2.3 M83.5 555.4 h2.3 M438.9 555.4 h-2.3 M83.5 552.9 h2.3 M438.9 552.9 h-2.3 M83.5 550.8 h2.3 M438.9 550.8 h-2.3 M83.5 590.6 h4.6 M438.9 590.6 h-4.6 M83.5 619.7 h2.3 M438.9 619.7 h-2.3 M83.5 612.4 h2.3 M438.9 612.4 h-2.3 M83.5 607.2 h2.3 M438.9 607.2 h-2.3 M83.5 603.2 h2.3 M438.9 603.2 h-2.3 M83.5 599.9 h2.3 M438.9 599.9 h-2.3 M83.5 597.1 h2.3 M438.9 597.1 h-2.3 M83.5 594.6 h2.3 M438.9 594.6 h-2.3 M83.5 592.5 h2.3 M438.9 592.5 h-2.3 M109.1 340.4 v2.3 M109.1 632.3 v-2.3 M124.1 340.4 v2.3 M124.1 632.3 v-2.3 M134.7 340.4 v2.3 M134.7 632.3 v-2.3 M143.0 340.4 v2.3 M143.0 632.3 v-2.3 M149.7 340.4 v2.3 M149.7 632.3 v-2.3 M155.4 340.4 v2.3 M155.4 632.3 v-2.3 M160.4 340.4 v2.3 M160.4 632.3 v-2.3 M164.7 340.4 v2.3 M164.7 632.3 v-2.3 M168.6 340.4 v4.6 M168.6 632.3 v-4.6 M194.2 340.4 v2.3 M194.2 632.3 v-2.3 M209.2 340.4 v2.3 M209.2 632.3 v-2.3 M219.8 340.4 v2.3 M219.8 632.3 v-2.3 M228.1 340.4 v2.3 M228.1 632.3 v-2.3 M234.8 340.4 v2.3 M234.8 632.3 v-2.3 M240.5 340.4 v2.3 M240.5 632.3 v-2.3 M245.5 340.4 v2.3 M245.5 632.3 v-2.3 M249.8 340.4 v2.3 M249.8 632.3 v-2.3 M253.7 340.4 v4.6 M253.7 632.3 v-4.6 M279.3 340.4 v2.3 M279.3 632.3 v-2.3 M294.3 340.4 v2.3 M294.3 632.3 v-2.3 M304.9 340.4 v2.3 M304.9 632.3 v-2.3 M313.2 340.4 v2.3 M313.2 632.3 v-2.3 M319.9 340.4 v2.3 M319.9 632.3 v-2.3 M325.6 340.4 v2.3 M325.6 632.3 v-2.3 M330.6 340.4 v2.3 M330.6 632.3 v-2.3 M334.9 340.4 v2.3 M334.9 632.3 v-2.3 M338.8 340.4 v4.6 M338.8 632.3 v-4.6 M364.4 340.4 v2.3 M364.4 632.3 v-2.3 M379.4 340.4 v2.3 M379.4 632.3 v-2.3 M390.0 340.4 v2.3 M390.0 632.3 v-2.3 M398.3 340.4 v2.3 M398.3 632.3 v-2.3 M405.0 340.4 v2.3 M405.0 632.3 v-2.3 M410.7 340.4 v2.3 M410.7 632.3 v-2.3 M415.7 340.4 v2.3 M415.7 632.3 v-2.3 M420.0 340.4 v2.3 M420.0 632.3 v-2.3 M423.9 340.4 v4.6 M423.9 632.3 v-4.6 M83.5 661.4 h2.3 M438.9 661.4 h-2.3 M83.5 654.1 h2.3 M438.9 654.1 h-2.3 M83.5 648.9 h2.3 M438.9 648.9 h-2.3 M83.5 644.9 h2.3 M438.9 644.9 h-2.3 M83.5 641.6 h2.3 M438.9 641.6 h-2.3 M83.5 638.8 h2.3 M438.9 638.8 h-2.3 M83.5 636.3 h2.3 M438.9 636.3 h-2.3 M83.5 634.2 h2.3 M438.9 634.2 h-2.3 M83.5 674.0 h4.6 M438.9 674.0 h-4.6 M83.5 703.1 h2.3 M438.9 703.1 h-2.3 M83.5 695.8 h2.3 M438.9 695.8 h-2.3 M83.5 690.6 h2.3 M438.9 690.6 h-2.3 M83.5 686.6 h2.3 M438.9 686.6 h-2.3 M83.5 683.3 h2.3 M438.9 683.3 h-2.3 M83.5 680.5 h2.3 M438.9 680.5 h-2.3 M83.5 678.0 h2.3 M438.9 678.0 h-2.3 M83.5 675.9 h2.3 M438.9 675.9 h-2.3 M83.5 715.7 h4.6 M438.9 715.7 h-4.6 M83.5 744.8 h2.3 M438.9 744.8 h-2.3 M83.5 737.5 h2.3 M438.9 737.5 h-2.3 M83.5 732.3 h2.3 M438.9 732.3 h-2.3 M83.5 728.3 h2.3 M438.9 728.3 h-2.3 M83.5 725.0 h2.3 M438.9 725.0 h-2.3 M83.5 722.2 h2.3 M438.9 722.2 h-2.3 M83.5 719.7 h2.3 M438.9 719.7 h-2.3 M83.5 717.6 h2.3 M438.9 717.6 h-2.3 M83.5 757.4 h4.6 M438.9 757.4 h-4.6 M83.5 786.5 h2.3 M438.9 786.5 h-2.3 M83.5 779.2 h2.3 M438.9 779.2 h-2.3 M83.5 774.0 h2.3 M438.9 774.0 h-2.3 M83.5 770.0 h2.3 M438.9 770.0 h-2.3 M83.5 766.7 h2.3 M438.9 766.7 h-2.3 M83.5 763.9 h2.3 M438.9 763.9 h-2.3 M83.5 761.4 h2.3 M438.9 761.4 h-2.3 M83.5 759.3 h2.3 M438.9 759.3 h-2.3 M83.5 799.1 h4.6 M438.9 799.1 h-4.6 M83.5 828.2 h2.3 M438.9 828.2 h-2.3 M83.5 820.9 h2.3 M438.9 820.9 h-2.3 M83.5 815.7 h2.3 M438.9 815.7 h-2.3 M83.5 811.7 h2.3 M438.9 811.7 h-2.3 M83.5 808.4 h2.3 M438.9 808.4 h-2.3 M83.5 805.6 h2.3 M438.9 805.6 h-2.3 M83.5 803.1 h2.3 M438.9 803.1 h-2.3 M83.5 801.0 h2.3 M438.9 801.0 h-2.3 M83.5 840.8 h4.6 M438.9 840.8 h-4.6 M83.5 869.9 h2.3 M438.9 869.9 h-2.3 M83.5 862.6 h2.3 M438.9 862.6 h-2.3 M83.5 857.4 h2.3 M438.9 857.4 h-2.3 M83.5 853.4 h2.3 M438.9 853.4 h-2.3 M83.5 850.1 h2.3 M438.9 850.1 h-2.3 M83.5 847.3 h2.3 M438.9 847.3 h-2.3 M83.5 844.8 h2.3 M438.9 844.8 h-2.3 M83.5 842.7 h2.3 M438.9 842.7 h-2.3 M83.5 882.5 h4.6 M438.9 882.5 h-4.6 M83.5 911.6 h2.3 M438.9 911.6 h-2.3 M83.5 904.3 h2.3 M438.9 904.3 h-2.3 M83.5 899.1 h2.3 M438.9 899.1 h-2.3 M83.5 895.1 h2.3 M438.9 895.1 h-2.3 M83.5 891.8 h2.3 M438.9 891.8 h-2.3 M83.5 889.0 h2.3 M438.9 889.0 h-2.3 M83.5 886.5 h2.3 M438.9 886.5 h-2.3 M83.5 884.4 h2.3 M438.9 884.4 h-2.3 M109.1 632.3 v2.3 M109.1 924.2 v-2.3 M124.1 632.3 v2.3 M124.1 924.2 v-2.3 M134.7 632.3 v2.3 M134.7 924.2 v-2.3 M143.0 632.3 v2.3 M143.0 924.2 v-2.3 M149.7 632.3 v2.3 M149.7 924.2 v-2.3 M155.4 632.3 v2.3 M155.4 924.2 v-2.3 M160.4 632.3 v2.3 M160.4 924.2 v-2.3 M164.7 632.3 v2.3 M164.7 924.2 v-2.3 M168.6 632.3 v4.6 M168.6 924.2 v-4.6 M194.2 632.3 v2.3 M194.2 924.2 v-2.3 M209.2 632.3 v2.3 M209.2 924.2 v-2.3 M219.8 632.3 v2.3 M219.8 924.2 v-2.3 M228.1 632.3 v2.3 M228.1 924.2 v-2.3 M234.8 632.3 v2.3 M234.8 924.2 v-2.3 M240.5 632.3 v2.3 M240.5 924.2 v-2.3 M245.5 632.3 v2.3 M245.5 924.2 v-2.3 M249.8 632.3 v2.3 M249.8 924.2 v-2.3 M253.7 632.3 v4.6 M253.7 924.2 v-4.6 M279.3 632.3 v2.3 M279.3 924.2 v-2.3 M294.3 632.3 v2.3 M294.3 924.2 v-2.3 M304.9 632.3 v2.3 M304.9 924.2 v-2.3 M313.2 632.3 v2.3 M313.2 924.2 v-2.3 M319.9 632.3 v2.3 M319.9 924.2 v-2.3 M325.6 632.3 v2.3 M325.6 924.2 v-2.3 M330.6 632.3 v2.3 M330.6 924.2 v-2.3 M334.9 632.3 v2.3 M334.9 924.2 v-2.3 M338.8 632.3 v4.6 M338.8 924.2 v-4.6 M364.4 632.3 v2.3 M364.4 924.2 v-2.3 M379.4 632.3 v2.3 M379.4 924.2 v-2.3 M390.0 632.3 v2.3 M390.0 924.2 v-2.3 M398.3 632.3 v2.3 M398.3 924.2 v-2.3 M405.0 632.3 v2.3 M405.0 924.2 v-2.3 M410.7 632.3 v2.3 M410.7 924.2 v-2.3 M415.7 632.3 v2.3 M415.7 924.2 v-2.3 M420.0 632.3 v2.3 M420.0 924.2 v-2.3 M423.9 632.3 v4.6 M423.9 924.2 v-4.6" stroke="#000" stroke-width="0.8" fill="none"/>
<rect x="83.5" y="48.5" width="355.4" height="291.9" fill="none" stroke="#000" stroke-width="1"/>
<rect x="83.5" y="340.4" width="355.4" height="291.9" fill="none" stroke="#000" stroke-width="1"/>
<rect x="83.5" y="632.3" width="355.4" height="291.9" fill="none" stroke="#000" stroke-width="1"/>
<text x="73.6" y="53.4" text-anchor="end" font-size="14">1</text>
<text x="74.8" y="96.5" text-anchor="end" font-size="14">10<tspan dy="-6.8" font-size="10.6">−1</tspan></text>
<text x="74.8" y="138.2" text-anchor="end" font-size="14">10<tspan dy="-6.8" font-size="10.6">−2</tspan></text>
<text x="74.8" y="179.9" text-anchor="end" font-size="14">10<tspan dy="-6.8" font-size="10.6">−3</tspan></text>
<text x="74.8" y="221.6" text-anchor="end" font-size="14">10<tspan dy="-6.8" font-size="10.6">−4</tspan></text>
<text x="74.8" y="263.3" text-anchor="end" font-size="14">10<tspan dy="-6.8" font-size="10.6">−5</tspan></text>
<text x="74.8" y="305.0" text-anchor="end" font-size="14">10<tspan dy="-6.8" font-size="10.6">−6</tspan></text>
<text x="73.6" y="345.3" text-anchor="end" font-size="14">1</text>
<text x="74.8" y="388.4" text-anchor="end" font-size="14">10<tspan dy="-6.8" font-size="10.6">−1</tspan></text>
<text x="74.8" y="430.1" text-anchor="end" font-size="14">10<tspan dy="-6.8" font-size="10.6">−2</tspan></text>
<text x="74.8" y="471.8" text-anchor="end" font-size="14">10<tspan dy="-6.8" font-size="10.6">−3</tspan></text>
<text x="74.8" y="513.5" text-anchor="end" font-size="14">10<tspan dy="-6.8" font-size="10.6">−4</tspan></text>
<text x="74.8" y="555.2" text-anchor="end" font-size="14">10<tspan dy="-6.8" font-size="10.6">−5</tspan></text>
<text x="74.8" y="596.9" text-anchor="end" font-size="14">10<tspan dy="-6.8" font-size="10.6">−6</tspan></text>
<text x="73.6" y="637.2" text-anchor="end" font-size="14">1</text>
<text x="74.8" y="680.3" text-anchor="end" font-size="14">10<tspan dy="-6.8" font-size="10.6">−1</tspan></text>
<text x="74.8" y="722.0" text-anchor="end" font-size="14">10<tspan dy="-6.8" font-size="10.6">−2</tspan></text>
<text x="74.8" y="763.7" text-anchor="end" font-size="14">10<tspan dy="-6.8" font-size="10.6">−3</tspan></text>
<text x="74.8" y="805.4" text-anchor="end" font-size="14">10<tspan dy="-6.8" font-size="10.6">−4</tspan></text>
<text x="74.8" y="847.1" text-anchor="end" font-size="14">10<tspan dy="-6.8" font-size="10.6">−5</tspan></text>
<text x="74.8" y="888.8" text-anchor="end" font-size="14">10<tspan dy="-6.8" font-size="10.6">−6</tspan></text>
<text x="74.8" y="930.5" text-anchor="end" font-size="14">10<tspan dy="-6.8" font-size="10.6">−7</tspan></text>
<text x="84.8" y="943.2" text-anchor="middle" font-size="14">0.001</text>
<text x="169.9" y="943.2" text-anchor="middle" font-size="14">0.01</text>
<text x="255.0" y="943.2" text-anchor="middle" font-size="14">0.1</text>
<text x="340.1" y="943.2" text-anchor="middle" font-size="14">1</text>
<text x="425.2" y="943.2" text-anchor="middle" font-size="14">10</text>
<text x="261.3" y="965.2" text-anchor="middle" font-size="15.5" class="ser">τ</text>
<text transform="translate(32.4 194.3) rotate(-90)" text-anchor="middle" font-size="14.5">J(<tspan class="ser" font-size="15">τ</tspan>, r=0) / I<tspan dy="3.6" font-size="11">o</tspan></text>
<text transform="translate(32.4 486.2) rotate(-90)" text-anchor="middle" font-size="14.2">H<tspan dy="3.6" font-size="11">x</tspan><tspan dy="-3.6">(</tspan><tspan class="ser" font-size="15">τ</tspan>, r=0) / I<tspan dy="3.6" font-size="11">o</tspan></text>
<text transform="translate(32.4 778.2) rotate(-90)" text-anchor="middle" font-size="14.2">K<tspan dy="3.6" font-size="11">xx</tspan><tspan dy="-3.6">(</tspan><tspan class="ser" font-size="15">τ</tspan>, r=0) / I<tspan dy="3.6" font-size="11">o</tspan></text>
<text x="108.8" y="304.2" font-size="14">(a)</text>
<text x="235" y="248.4" font-size="14.2"><tspan class="ser" font-size="15">τ</tspan><tspan dy="3.6" font-size="11">R</tspan><tspan dy="-3.6"> = 1/100</tspan></text>
<text x="108.8" y="596.1" font-size="14">(b)</text>
<text x="235" y="540.3" font-size="14.2"><tspan class="ser" font-size="15">τ</tspan><tspan dy="3.6" font-size="11">R</tspan><tspan dy="-3.6"> = 1/100</tspan></text>
<text x="108.8" y="888.0" font-size="14">(c)</text>
<text x="235" y="832.0" font-size="14.2"><tspan class="ser" font-size="15">τ</tspan><tspan dy="3.6" font-size="11">R</tspan><tspan dy="-3.6"> = 1/100</tspan></text>
<text x="313.4" y="200.0" font-size="14.2">1/10</text>
<text x="314.5" y="492.6" font-size="14.2">1/10</text>
<text x="314.5" y="783.3" font-size="14.2">1/10</text>
<text x="358.0" y="158.8" text-anchor="middle" font-size="14.2">1</text>
<text x="357.5" y="450.7" text-anchor="middle" font-size="14.2">1</text>
<text x="357.5" y="741.9" text-anchor="middle" font-size="14.2">1</text>
<text x="386.0" y="126.8" text-anchor="middle" font-size="20.5" class="ser">∞</text>
<text x="386.1" y="417.9" text-anchor="middle" font-size="20.5" class="ser">∞</text>
<text x="386.1" y="709.9" text-anchor="middle" font-size="20.5" class="ser">∞</text>
<text x="338.9" y="356.3" font-size="13.2" class="ser">τ<tspan dy="3" font-size="10.5">eq</tspan><tspan dy="-3">(1/100)</tspan></text>
<text x="398.9" y="356.3" font-size="13.2" class="ser">τ<tspan dy="3" font-size="10.5">eq</tspan><tspan dy="-3">(1)</tspan></text>
</svg>
</body></html>
